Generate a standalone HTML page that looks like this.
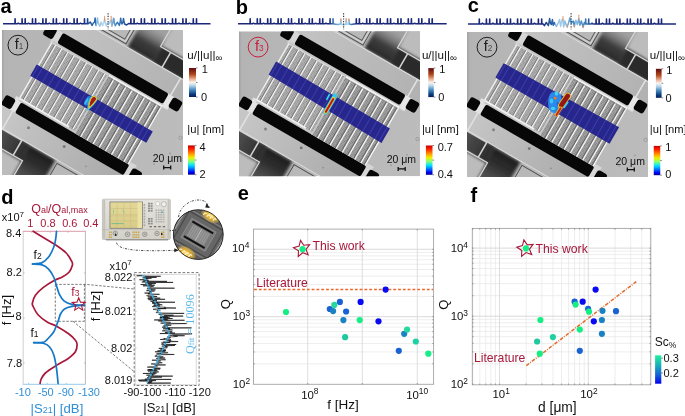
<!DOCTYPE html><html><head><meta charset="utf-8"><style>html,body{margin:0;padding:0;background:#fff;}svg{display:block;will-change:transform;}</style></head><body><svg width="685" height="416" viewBox="0 0 685 416"><defs><clipPath id="semclip"><rect x="0" y="0" width="181" height="145"/></clipPath><linearGradient id="darkU" gradientUnits="userSpaceOnUse" x1="0" y1="-96" x2="0" y2="-68"><stop offset="0" stop-color="#a0a0a0"/><stop offset="0.28" stop-color="#7c7c7c"/><stop offset="0.55" stop-color="#3e3e3e"/><stop offset="1" stop-color="#282828"/></linearGradient><linearGradient id="darkL" gradientUnits="userSpaceOnUse" x1="0" y1="112" x2="0" y2="68"><stop offset="0" stop-color="#6a6a6a"/><stop offset="0.4" stop-color="#4a4a4a"/><stop offset="0.7" stop-color="#2e2e2e"/><stop offset="1" stop-color="#1e1e1e"/></linearGradient><linearGradient id="bgGrad" x1="0" y1="0" x2="1" y2="0"><stop offset="0" stop-color="#a2a2a2"/><stop offset="0.015" stop-color="#b4b4b4"/><stop offset="0.5" stop-color="#b8b8b8"/><stop offset="1" stop-color="#bcbcbc"/></linearGradient><linearGradient id="bandU" gradientUnits="userSpaceOnUse" x1="-70" y1="0" x2="70" y2="0"><stop offset="0" stop-color="#c4c4c4"/><stop offset="1" stop-color="#b2b2b2"/></linearGradient><linearGradient id="bandL" gradientUnits="userSpaceOnUse" x1="-70" y1="0" x2="70" y2="0"><stop offset="0" stop-color="#c6c6c6"/><stop offset="1" stop-color="#a8a8a8"/></linearGradient><linearGradient id="darkSq" gradientUnits="userSpaceOnUse" x1="-33" y1="0" x2="-75" y2="0"><stop offset="0" stop-color="#2a2a2a"/><stop offset="1" stop-color="#5a5a5a"/></linearGradient><filter id="blur1" x="-20%" y="-20%" width="140%" height="140%"><feGaussianBlur stdDeviation="0.6"/></filter><filter id="blur2" x="-20%" y="-20%" width="140%" height="140%"><feGaussianBlur stdDeviation="1.6"/></filter><filter id="blur05"><feGaussianBlur stdDeviation="0.35"/></filter><pattern id="hatch" patternUnits="userSpaceOnUse" width="1.55" height="1.55"><rect width="1.55" height="1.55" fill="#b0b0b0"/><rect width="0.75" height="0.75" fill="#868686"/></pattern><pattern id="hatch2" patternUnits="userSpaceOnUse" width="1.55" height="1.55"><rect width="1.55" height="1.55" fill="#a2a2a2"/><rect width="0.75" height="0.75" fill="#767676"/></pattern><g id="sem"><rect x="0" y="0" width="181" height="145" fill="url(#bgGrad)"/><g transform="translate(89.5,73.6) rotate(30) scale(0.976,1)"><rect x="32" y="-170" width="140" height="86" fill="#bcbcbc"/><g filter="url(#blur2)"><rect x="3" y="-137" width="30" height="70" fill="url(#darkU)"/><rect x="33" y="-85" width="80" height="19" fill="#2c2c2c"/></g><polyline points="32,-170 32,-84 110,-84" fill="none" stroke="#d6d6d6" stroke-width="1.3"/><polyline points="44,-84 44,-65.5 110,-65.5" fill="none" stroke="#d2d2d2" stroke-width="1.6"/><rect x="-170" y="-170" width="170" height="101" fill="#b8b8b8"/><polyline points="-170,-69 0,-69 0,-170" fill="none" stroke="#4a4a4a" stroke-width="0.9"/><polyline points="-170,-72.5 -3.5,-72.5 -3.5,-170" fill="none" stroke="#555" stroke-width="0.9"/><polyline points="-170,-70.8 -1.7,-70.8 -1.7,-170" fill="none" stroke="#d4d4d4" stroke-width="1.2"/><rect x="-172" y="84" width="140" height="86" fill="#bcbcbc"/><g filter="url(#blur2)"><rect x="-33" y="67" width="30" height="70" fill="url(#darkL)"/><rect x="-113" y="66" width="80" height="19" fill="url(#darkSq)"/></g><polyline points="-32,170 -32,84 -110,84" fill="none" stroke="#d6d6d6" stroke-width="1.3"/><polyline points="-43,84 -43,66.5 -110,66.5" fill="none" stroke="#d2d2d2" stroke-width="1.6"/><rect x="0" y="69" width="170" height="101" fill="#b8b8b8"/><polyline points="170,69 0,69 0,170" fill="none" stroke="#4a4a4a" stroke-width="0.9"/><rect x="-200" y="-67" width="400" height="20.5" fill="url(#bandU)"/><rect x="-200" y="46" width="400" height="20.5" fill="url(#bandL)"/><line x1="-200" y1="-66.5" x2="200" y2="-66.5" stroke="#dadada" stroke-width="1"/><line x1="-200" y1="66" x2="200" y2="66" stroke="#dadada" stroke-width="1"/><line x1="66" y1="-67" x2="66" y2="-46" stroke="#e2e2e2" stroke-width="1.6"/><line x1="-66" y1="46" x2="-66" y2="67" stroke="#e2e2e2" stroke-width="1.6"/><g filter="url(#blur05)"><rect x="-68.5" y="-47" width="7.5" height="14.5" fill="#d6d6d6"/><rect x="63" y="-47" width="7.5" height="14.5" fill="#e6e6e6"/><rect x="-70.5" y="31" width="8" height="15" fill="#e2e2e2"/><rect x="64.5" y="31" width="7.5" height="15" fill="#d6d6d6"/><rect x="-66" y="-35.5" width="130" height="2.8" fill="#c6c6c6"/><rect x="-66" y="31.5" width="128" height="2.8" fill="#c6c6c6"/></g><rect x="-61.5" y="-47.1" width="125" height="11.7" rx="2" fill="#070707"/><rect x="-63.2" y="34.1" width="128.2" height="12.1" rx="2" fill="#070707"/><rect x="-79.2" y="-46.900000000000006" width="11.4" height="11.4" rx="2.7" fill="#070707"/><rect x="69.3" y="-46.900000000000006" width="11.4" height="11.4" rx="2.7" fill="#070707"/><rect x="-80.2" y="34.5" width="11.4" height="11.4" rx="2.7" fill="#070707"/><rect x="69.8" y="34.5" width="11.4" height="11.4" rx="2.7" fill="#070707"/><rect x="-66.5" y="-33" width="66" height="64.5" fill="url(#hatch)"/><rect x="0.8" y="-33" width="62.7" height="67.1" fill="url(#hatch2)"/><line x1="-66.5" y1="-33" x2="-66.5" y2="31.5" stroke="#f4f4f4" stroke-width="1.3"/><line x1="-61.8" y1="-33" x2="-61.8" y2="31.5" stroke="#f4f4f4" stroke-width="1.3"/><line x1="-63" y1="-33" x2="-63" y2="31.5" stroke="#747474" stroke-width="0.8"/><line x1="-54.5" y1="-33" x2="-54.5" y2="31.5" stroke="#f4f4f4" stroke-width="1.3"/><line x1="-55.7" y1="-33" x2="-55.7" y2="31.5" stroke="#747474" stroke-width="0.8"/><line x1="-47.2" y1="-33" x2="-47.2" y2="31.5" stroke="#f4f4f4" stroke-width="1.3"/><line x1="-48.4" y1="-33" x2="-48.4" y2="31.5" stroke="#747474" stroke-width="0.8"/><line x1="-39.9" y1="-33" x2="-39.9" y2="31.5" stroke="#f4f4f4" stroke-width="1.3"/><line x1="-41.1" y1="-33" x2="-41.1" y2="31.5" stroke="#747474" stroke-width="0.8"/><line x1="-32.6" y1="-33" x2="-32.6" y2="31.5" stroke="#f4f4f4" stroke-width="1.3"/><line x1="-33.8" y1="-33" x2="-33.8" y2="31.5" stroke="#747474" stroke-width="0.8"/><line x1="-25.3" y1="-33" x2="-25.3" y2="31.5" stroke="#f4f4f4" stroke-width="1.3"/><line x1="-26.5" y1="-33" x2="-26.5" y2="31.5" stroke="#747474" stroke-width="0.8"/><line x1="-18" y1="-33" x2="-18" y2="31.5" stroke="#f4f4f4" stroke-width="1.3"/><line x1="-19.2" y1="-33" x2="-19.2" y2="31.5" stroke="#747474" stroke-width="0.8"/><line x1="-10.7" y1="-33" x2="-10.7" y2="31.5" stroke="#f4f4f4" stroke-width="1.3"/><line x1="-11.9" y1="-33" x2="-11.9" y2="31.5" stroke="#747474" stroke-width="0.8"/><line x1="-3.4" y1="-33" x2="-3.4" y2="31.5" stroke="#f4f4f4" stroke-width="1.3"/><line x1="-4.6" y1="-33" x2="-4.6" y2="31.5" stroke="#747474" stroke-width="0.8"/><line x1="7.4" y1="-33" x2="7.4" y2="34.1" stroke="#f4f4f4" stroke-width="1.45"/><line x1="5.95" y1="-33" x2="5.95" y2="34.1" stroke="#666" stroke-width="1.0"/><line x1="14.7" y1="-33" x2="14.7" y2="34.1" stroke="#f4f4f4" stroke-width="1.45"/><line x1="13.25" y1="-33" x2="13.25" y2="34.1" stroke="#666" stroke-width="1.0"/><line x1="22" y1="-33" x2="22" y2="34.1" stroke="#f4f4f4" stroke-width="1.45"/><line x1="20.55" y1="-33" x2="20.55" y2="34.1" stroke="#666" stroke-width="1.0"/><line x1="29.3" y1="-33" x2="29.3" y2="34.1" stroke="#f4f4f4" stroke-width="1.45"/><line x1="27.85" y1="-33" x2="27.85" y2="34.1" stroke="#666" stroke-width="1.0"/><line x1="36.6" y1="-33" x2="36.6" y2="34.1" stroke="#f4f4f4" stroke-width="1.45"/><line x1="35.15" y1="-33" x2="35.15" y2="34.1" stroke="#666" stroke-width="1.0"/><line x1="43.9" y1="-33" x2="43.9" y2="34.1" stroke="#f4f4f4" stroke-width="1.45"/><line x1="42.45" y1="-33" x2="42.45" y2="34.1" stroke="#666" stroke-width="1.0"/><line x1="51.2" y1="-33" x2="51.2" y2="34.1" stroke="#f4f4f4" stroke-width="1.45"/><line x1="49.75" y1="-33" x2="49.75" y2="34.1" stroke="#666" stroke-width="1.0"/><line x1="58.5" y1="-33" x2="58.5" y2="34.1" stroke="#f4f4f4" stroke-width="1.45"/><line x1="57.05" y1="-33" x2="57.05" y2="34.1" stroke="#666" stroke-width="1.0"/><line x1="63.5" y1="-33" x2="63.5" y2="34.1" stroke="#f4f4f4" stroke-width="1.45"/><line x1="62.05" y1="-33" x2="62.05" y2="34.1" stroke="#666" stroke-width="1.0"/><line x1="-66.5" y1="31.5" x2="-8" y2="31.5" stroke="#f0f0f0" stroke-width="1.8"/><line x1="-66.5" y1="-33" x2="-0.5" y2="-33" stroke="#dedede" stroke-width="0.9"/><line x1="1" y1="-33" x2="64.2" y2="-33" stroke="#f2f2f2" stroke-width="1.9"/><line x1="1" y1="-31.5" x2="63" y2="-31.5" stroke="#808080" stroke-width="0.6"/><rect x="-0.6" y="-33" width="1.6" height="67.1" fill="#c8c8c8"/></g><circle cx="26.5" cy="97.7" r="1.5" fill="#666" opacity="0.7"/><circle cx="62.2" cy="116.6" r="1.4" fill="#555" opacity="0.7"/><circle cx="84" cy="136.3" r="0.9" fill="#777" opacity="0.6"/><circle cx="178.5" cy="107.8" r="1.7" fill="none" stroke="#888" stroke-width="0.7" opacity="0.8"/><circle cx="152" cy="134" r="0.8" fill="#777" opacity="0.6"/><circle cx="168" cy="123.4" r="0.8" fill="#777" opacity="0.6"/></g><linearGradient id="lgA" gradientUnits="userSpaceOnUse" x1="0" y1="0" x2="685" y2="0"><stop offset="0" stop-color="#1b2878"/><stop offset="0.12" stop-color="#1b2878"/><stop offset="0.13" stop-color="#214e96"/><stop offset="0.14" stop-color="#2c6cb0"/><stop offset="0.14" stop-color="#7fb4dc"/><stop offset="0.15" stop-color="#b4d6ec"/><stop offset="0.16" stop-color="#a8d0ea"/><stop offset="0.17" stop-color="#3c80c0"/><stop offset="0.18" stop-color="#2a62a8"/><stop offset="0.19" stop-color="#1b2878"/><stop offset="1" stop-color="#1b2878"/></linearGradient><linearGradient id="lgB" gradientUnits="userSpaceOnUse" x1="0" y1="0" x2="685" y2="0"><stop offset="0" stop-color="#1b2878"/><stop offset="0.48" stop-color="#1b2878"/><stop offset="0.49" stop-color="#5a9ccc"/><stop offset="0.5" stop-color="#a4cce6"/><stop offset="0.51" stop-color="#a4cce6"/><stop offset="0.51" stop-color="#5a9ccc"/><stop offset="0.52" stop-color="#1b2878"/><stop offset="1" stop-color="#1b2878"/></linearGradient><linearGradient id="lgC" gradientUnits="userSpaceOnUse" x1="0" y1="0" x2="685" y2="0"><stop offset="0" stop-color="#1b2878"/><stop offset="0.79" stop-color="#1b2878"/><stop offset="0.8" stop-color="#234f96"/><stop offset="0.81" stop-color="#2f6cb0"/><stop offset="0.81" stop-color="#7fb4dc"/><stop offset="0.82" stop-color="#a8d0ea"/><stop offset="0.83" stop-color="#6ea8d6"/><stop offset="0.84" stop-color="#3c80c0"/><stop offset="0.84" stop-color="#8cc0e2"/><stop offset="0.85" stop-color="#4a8cc8"/><stop offset="0.86" stop-color="#2a5ea6"/><stop offset="0.87" stop-color="#1b2878"/><stop offset="1" stop-color="#1b2878"/></linearGradient></defs><rect width="685" height="416" fill="#fff"/><text x="0.5" y="12.8" font-size="20" font-weight="bold" font-family="Liberation Sans, sans-serif" fill="#000">a</text><text x="235.8" y="13.7" font-size="20" font-weight="bold" font-family="Liberation Sans, sans-serif" fill="#000">b</text><text x="467.8" y="12.4" font-size="20" font-weight="bold" font-family="Liberation Sans, sans-serif" fill="#000">c</text><text x="1.2" y="203.5" font-size="20" font-weight="bold" font-family="Liberation Sans, sans-serif" fill="#000">d</text><text x="237.8" y="199.6" font-size="20" font-weight="bold" font-family="Liberation Sans, sans-serif" fill="#000">e</text><text x="470.6" y="202" font-size="20" font-weight="bold" font-family="Liberation Sans, sans-serif" fill="#000">f</text><path d="M3,23.8 L14.95,23.8 L15.05,18.8 L15.15,18.8 L15.25,23.8 L17.35,23.8 L17.95,23.2 L18.55,23.2 L19.15,23.8 L21.95,23.8 L22.05,18.8 L22.15,18.8 L22.25,23.8 L25.05,23.8 L25.15,18.8 L25.25,18.8 L25.35,23.8 L27.59,23.8 L28.19,23.2 L28.79,23.2 L29.39,23.8 L32.35,23.8 L32.45,18.8 L32.55,18.8 L32.65,23.8 L35.45,23.8 L35.55,18.8 L35.65,18.8 L35.75,23.8 L37.99,23.8 L38.59,23.2 L39.19,23.2 L39.79,23.8 L42.75,23.8 L42.85,18.8 L42.95,18.8 L43.05,23.8 L45.85,23.8 L45.95,18.8 L46.05,18.8 L46.15,23.8 L48.39,23.8 L48.99,23.2 L49.59,23.2 L50.19,23.8 L53.15,23.8 L53.25,18.8 L53.35,18.8 L53.45,23.8 L56.25,23.8 L56.35,18.8 L56.45,18.8 L56.55,23.8 L58.79,23.8 L59.39,23.2 L59.98,23.2 L60.59,23.8 L63.55,23.8 L63.65,18.8 L63.75,18.8 L63.85,23.8 L66.65,23.8 L66.75,18.8 L66.85,18.8 L66.95,23.8 L69.18,23.8 L69.78,23.2 L70.38,23.2 L70.98,23.8 L73.95,23.8 L74.05,18.8 L74.15,18.8 L74.25,23.8 L77.05,23.8 L77.15,18.8 L77.25,18.8 L77.35,23.8 L79.58,23.8 L80.19,23.2 L80.78,23.2 L81.39,23.8 L84.35,23.8 L84.45,18.8 L84.55,18.8 L84.65,23.8 L87.45,23.8 L87.55,18.8 L87.65,18.8 L87.75,23.8 L88.6,23.5 L90.3,22 L92.1,25.4 L93.4,23 L94.6,22 L95.1,18.1 L95.6,22 L96.2,25.5 L97,22 L97.5,18.1 L98,22 L98.8,24 L99.8,26.3 L101.1,22 L102.6,25.8 L103.8,22.5 L104.6,19 L105.3,22.5 L106.3,26 L107.3,23.5 L108.2,22.5 L109.3,23.5 L110.3,21 L111.2,20 L111.8,26.2 L112.7,23 L113.3,19 L113.6,18.2 L114,19 L114.3,23 L115.3,25.8 L116.4,23.5 L117.5,22.3 L118.5,24 L119.4,25.4 L120.2,22 L120.7,18.2 L121.2,22 L122,24 L122.9,22 L123.5,18.5 L124,22 L124.6,24 L126.6,25 L128.5,23.5 L129.8,23.8 L130.75,23.8 L130.85,18.8 L130.95,18.8 L131.05,23.8 L133.95,23.8 L134.05,18.8 L134.15,18.8 L134.25,23.8 L136.44,23.8 L137.04,23.2 L137.64,23.2 L138.24,23.8 L141.15,23.8 L141.25,18.8 L141.35,18.8 L141.45,23.8 L144.35,23.8 L144.45,18.8 L144.55,18.8 L144.65,23.8 L146.84,23.8 L147.44,23.2 L148.04,23.2 L148.64,23.8 L151.55,23.8 L151.65,18.8 L151.75,18.8 L151.85,23.8 L154.75,23.8 L154.85,18.8 L154.95,18.8 L155.05,23.8 L157.24,23.8 L157.84,23.2 L158.44,23.2 L159.04,23.8 L161.95,23.8 L162.05,18.8 L162.15,18.8 L162.25,23.8 L165.15,23.8 L165.25,18.8 L165.35,18.8 L165.45,23.8 L167.64,23.8 L168.24,23.2 L168.84,23.2 L169.44,23.8 L172.35,23.8 L172.45,18.8 L172.55,18.8 L172.65,23.8 L175.55,23.8 L175.65,18.8 L175.75,18.8 L175.85,23.8 L178.04,23.8 L178.64,23.2 L179.24,23.2 L179.84,23.8 L182.75,23.8 L182.85,18.8 L182.95,18.8 L183.05,23.8 L185.95,23.8 L186.05,18.8 L186.15,18.8 L186.25,23.8 L188.44,23.8 L189.04,23.2 L189.64,23.2 L190.24,23.8 L193.15,23.8 L193.25,18.8 L193.35,18.8 L193.45,23.8 L196.35,23.8 L196.45,18.8 L196.55,18.8 L196.65,23.8 L210.5,23.8" fill="none" stroke="url(#lgA)" stroke-width="1.5" stroke-linejoin="round"/><line x1="104.6" y1="16.4" x2="104.6" y2="21" stroke="#e69468" stroke-width="1.1" stroke-linecap="round" opacity="0.9"/><line x1="111.2" y1="16.2" x2="111.2" y2="21" stroke="#e69468" stroke-width="1.1" stroke-linecap="round" opacity="0.9"/><line x1="108.1" y1="13.2" x2="108.1" y2="29.2" stroke="#2a2a2a" stroke-width="1.1" stroke-dasharray="1.2,1.4"/><path d="M238,23.8 L250.05,23.8 L250.15,18.8 L250.25,18.8 L250.35,23.8 L252.5,23.8 L253.09,23.2 L253.7,23.2 L254.3,23.8 L257.15,23.8 L257.25,18.8 L257.35,18.8 L257.45,23.8 L260.15,23.8 L260.25,18.8 L260.35,18.8 L260.45,23.8 L262.73,23.8 L263.33,23.2 L263.93,23.2 L264.53,23.8 L267.55,23.8 L267.65,18.8 L267.75,18.8 L267.85,23.8 L270.55,23.8 L270.65,18.8 L270.75,18.8 L270.85,23.8 L273.13,23.8 L273.73,23.2 L274.33,23.2 L274.93,23.8 L277.95,23.8 L278.05,18.8 L278.15,18.8 L278.25,23.8 L280.95,23.8 L281.05,18.8 L281.15,18.8 L281.25,23.8 L283.53,23.8 L284.13,23.2 L284.73,23.2 L285.33,23.8 L288.35,23.8 L288.45,18.8 L288.55,18.8 L288.65,23.8 L291.35,23.8 L291.45,18.8 L291.55,18.8 L291.65,23.8 L293.93,23.8 L294.53,23.2 L295.13,23.2 L295.73,23.8 L298.75,23.8 L298.85,18.8 L298.95,18.8 L299.05,23.8 L301.75,23.8 L301.85,18.8 L301.95,18.8 L302.05,23.8 L304.33,23.8 L304.93,23.2 L305.53,23.2 L306.13,23.8 L309.15,23.8 L309.25,18.8 L309.35,18.8 L309.45,23.8 L312.15,23.8 L312.25,18.8 L312.35,18.8 L312.45,23.8 L314.73,23.8 L315.33,23.2 L315.93,23.2 L316.53,23.8 L319.55,23.8 L319.65,18.8 L319.75,18.8 L319.85,23.8 L322.55,23.8 L322.65,18.8 L322.75,18.8 L322.85,23.8 L325.13,23.8 L325.73,23.2 L326.33,23.2 L326.93,23.8 L329.95,23.8 L330.05,18.8 L330.15,18.8 L330.25,23.8 L332.95,23.8 L333.05,18.8 L333.15,18.8 L333.25,23.8 L335.5,24.2 L338,24.6 L340.5,24 L340.9,19.5 L341.3,24 L343.5,25 L345.8,24.2 L346.2,19.5 L346.6,24.2 L348.4,24 L348.8,19.5 L349.2,24 L351.5,24.4 L354,24 L356.15,23.8 L356.25,18.8 L356.35,18.8 L356.45,23.8 L359.25,23.8 L359.35,18.8 L359.45,18.8 L359.55,23.8 L361.79,23.8 L362.38,23.2 L362.99,23.2 L363.58,23.8 L366.55,23.8 L366.65,18.8 L366.75,18.8 L366.85,23.8 L369.65,23.8 L369.75,18.8 L369.85,18.8 L369.95,23.8 L372.19,23.8 L372.79,23.2 L373.39,23.2 L373.99,23.8 L376.95,23.8 L377.05,18.8 L377.15,18.8 L377.25,23.8 L380.05,23.8 L380.15,18.8 L380.25,18.8 L380.35,23.8 L382.59,23.8 L383.19,23.2 L383.79,23.2 L384.38,23.8 L387.35,23.8 L387.45,18.8 L387.55,18.8 L387.65,23.8 L390.45,23.8 L390.55,18.8 L390.65,18.8 L390.75,23.8 L392.99,23.8 L393.59,23.2 L394.19,23.2 L394.79,23.8 L397.75,23.8 L397.85,18.8 L397.95,18.8 L398.05,23.8 L400.85,23.8 L400.95,18.8 L401.05,18.8 L401.15,23.8 L403.39,23.8 L403.99,23.2 L404.59,23.2 L405.19,23.8 L408.15,23.8 L408.25,18.8 L408.35,18.8 L408.45,23.8 L411.25,23.8 L411.35,18.8 L411.45,18.8 L411.55,23.8 L413.79,23.8 L414.39,23.2 L414.99,23.2 L415.59,23.8 L418.55,23.8 L418.65,18.8 L418.75,18.8 L418.85,23.8 L421.65,23.8 L421.75,18.8 L421.85,18.8 L421.95,23.8 L424.19,23.8 L424.79,23.2 L425.39,23.2 L425.99,23.8 L428.95,23.8 L429.05,18.8 L429.15,18.8 L429.25,23.8 L432.05,23.8 L432.15,18.8 L432.25,18.8 L432.35,23.8 L446.7,23.8" fill="none" stroke="url(#lgB)" stroke-width="1.5" stroke-linejoin="round"/><line x1="340.9" y1="18.8" x2="340.9" y2="20.5" stroke="#e69468" stroke-width="1.1" stroke-linecap="round" opacity="0.9"/><line x1="346.2" y1="18.6" x2="346.2" y2="21.5" stroke="#e69468" stroke-width="1.1" stroke-linecap="round" opacity="0.9"/><line x1="348.8" y1="18.8" x2="348.8" y2="20.5" stroke="#e69468" stroke-width="1.1" stroke-linecap="round" opacity="0.9"/><line x1="343.6" y1="13.2" x2="343.6" y2="29.2" stroke="#2a2a2a" stroke-width="1.1" stroke-dasharray="1.2,1.4"/><path d="M468,23.9 L479.15,23.9 L479.25,18.9 L479.35,18.9 L479.45,23.9 L481.6,23.9 L482.19,23.3 L482.8,23.3 L483.39,23.9 L486.25,23.9 L486.35,18.9 L486.45,18.9 L486.55,23.9 L489.55,23.9 L489.65,18.9 L489.75,18.9 L489.85,23.9 L492,23.9 L492.59,23.3 L493.19,23.3 L493.79,23.9 L496.65,23.9 L496.75,18.9 L496.85,18.9 L496.95,23.9 L499.95,23.9 L500.05,18.9 L500.15,18.9 L500.25,23.9 L502.39,23.9 L502.99,23.3 L503.59,23.3 L504.19,23.9 L507.05,23.9 L507.15,18.9 L507.25,18.9 L507.35,23.9 L510.35,23.9 L510.45,18.9 L510.55,18.9 L510.65,23.9 L512.8,23.9 L513.4,23.3 L514,23.3 L514.6,23.9 L517.45,23.9 L517.55,18.9 L517.65,18.9 L517.75,23.9 L520.75,23.9 L520.85,18.9 L520.95,18.9 L521.05,23.9 L523.2,23.9 L523.8,23.3 L524.39,23.3 L525,23.9 L527.85,23.9 L527.95,18.9 L528.05,18.9 L528.15,23.9 L531.15,23.9 L531.25,18.9 L531.35,18.9 L531.45,23.9 L533.6,23.9 L534.2,23.3 L534.79,23.3 L535.39,23.9 L538.25,23.9 L538.35,18.9 L538.45,18.9 L538.55,23.9 L541.55,23.9 L541.65,18.9 L541.75,18.9 L541.85,23.9 L542.8,23.7 L544.4,25.6 L546.3,22.5 L548.4,25.6 L549.3,21 L549.6,18.5 L549.9,21 L550.5,23 L551.4,24.5 L552.1,21.5 L552.4,19.5 L552.7,21.5 L553.3,25.3 L554.5,22.5 L556.4,26.5 L558.5,22.5 L559.6,19.5 L560.6,26.5 L562,20 L562.9,19 L563.6,27 L564.8,21 L566.2,25 L567.3,26.5 L568.5,23 L569.9,17.8 L570.3,21 L570.6,19 L571.2,23.5 L572.2,22 L573.3,21 L574.4,26.5 L575.8,20.2 L577.3,24.6 L578.8,18.5 L579.9,25.3 L581.3,21 L583.1,27 L584.4,22.5 L585.55,23.9 L585.65,18.9 L585.75,18.9 L585.85,23.9 L588.55,23.9 L588.65,18.9 L588.75,18.9 L588.85,23.9 L591.13,23.9 L591.73,23.3 L592.33,23.3 L592.93,23.9 L595.95,23.9 L596.05,18.9 L596.15,18.9 L596.25,23.9 L598.95,23.9 L599.05,18.9 L599.15,18.9 L599.25,23.9 L601.53,23.9 L602.13,23.3 L602.73,23.3 L603.33,23.9 L606.35,23.9 L606.45,18.9 L606.55,18.9 L606.65,23.9 L609.35,23.9 L609.45,18.9 L609.55,18.9 L609.65,23.9 L611.93,23.9 L612.53,23.3 L613.13,23.3 L613.73,23.9 L616.75,23.9 L616.85,18.9 L616.95,18.9 L617.05,23.9 L619.75,23.9 L619.85,18.9 L619.95,18.9 L620.05,23.9 L622.33,23.9 L622.93,23.3 L623.53,23.3 L624.13,23.9 L627.15,23.9 L627.25,18.9 L627.35,18.9 L627.45,23.9 L630.15,23.9 L630.25,18.9 L630.35,18.9 L630.45,23.9 L632.73,23.9 L633.33,23.3 L633.93,23.3 L634.53,23.9 L637.55,23.9 L637.65,18.9 L637.75,18.9 L637.85,23.9 L640.55,23.9 L640.65,18.9 L640.75,18.9 L640.85,23.9 L643.13,23.9 L643.73,23.3 L644.33,23.3 L644.93,23.9 L647.95,23.9 L648.05,18.9 L648.15,18.9 L648.25,23.9 L650.95,23.9 L651.05,18.9 L651.15,18.9 L651.25,23.9 L653.53,23.9 L654.13,23.3 L654.73,23.3 L655.33,23.9 L658.35,23.9 L658.45,18.9 L658.55,18.9 L658.65,23.9 L661.35,23.9 L661.45,18.9 L661.55,18.9 L661.65,23.9 L676,23.9" fill="none" stroke="url(#lgC)" stroke-width="1.5" stroke-linejoin="round"/><line x1="563" y1="16.5" x2="563" y2="20.5" stroke="#e69468" stroke-width="1.1" stroke-linecap="round" opacity="0.9"/><line x1="578.8" y1="15.2" x2="578.8" y2="20" stroke="#e69468" stroke-width="1.1" stroke-linecap="round" opacity="0.9"/><line x1="567.3" y1="25" x2="567.3" y2="27.5" stroke="#e69468" stroke-width="1.1" stroke-linecap="round" opacity="0.9"/><line x1="583.1" y1="25.5" x2="583.1" y2="27.8" stroke="#e69468" stroke-width="1.1" stroke-linecap="round" opacity="0.9"/><line x1="574.4" y1="25" x2="574.4" y2="27" stroke="#e69468" stroke-width="1.1" stroke-linecap="round" opacity="0.9"/><line x1="571.1" y1="13.2" x2="571.1" y2="29.2" stroke="#2a2a2a" stroke-width="1.1" stroke-dasharray="1.2,1.4"/><g transform="translate(2,30)" clip-path="url(#semclip)"><use href="#sem"/><g transform="translate(89.5,73.6) rotate(30)"><rect x="-67" y="-6.4" width="134" height="12.8" fill="#26268c"/><g><line x1="-64.9" y1="-6.4" x2="-64.9" y2="6.4" stroke="#3c3ca8" stroke-width="1.1"/><line x1="-60.32" y1="-6.4" x2="-60.32" y2="6.4" stroke="#3c3ca8" stroke-width="1.1"/><line x1="-53.19" y1="-6.4" x2="-53.19" y2="6.4" stroke="#3c3ca8" stroke-width="1.1"/><line x1="-46.07" y1="-6.4" x2="-46.07" y2="6.4" stroke="#3c3ca8" stroke-width="1.1"/><line x1="-38.94" y1="-6.4" x2="-38.94" y2="6.4" stroke="#3c3ca8" stroke-width="1.1"/><line x1="-31.82" y1="-6.4" x2="-31.82" y2="6.4" stroke="#3c3ca8" stroke-width="1.1"/><line x1="-24.69" y1="-6.4" x2="-24.69" y2="6.4" stroke="#3c3ca8" stroke-width="1.1"/><line x1="-17.57" y1="-6.4" x2="-17.57" y2="6.4" stroke="#3c3ca8" stroke-width="1.1"/><line x1="-10.44" y1="-6.4" x2="-10.44" y2="6.4" stroke="#3c3ca8" stroke-width="1.1"/><line x1="-3.32" y1="-6.4" x2="-3.32" y2="6.4" stroke="#3c3ca8" stroke-width="1.1"/><line x1="7.22" y1="-6.4" x2="7.22" y2="6.4" stroke="#3c3ca8" stroke-width="1.1"/><line x1="14.35" y1="-6.4" x2="14.35" y2="6.4" stroke="#3c3ca8" stroke-width="1.1"/><line x1="21.47" y1="-6.4" x2="21.47" y2="6.4" stroke="#3c3ca8" stroke-width="1.1"/><line x1="28.6" y1="-6.4" x2="28.6" y2="6.4" stroke="#3c3ca8" stroke-width="1.1"/><line x1="35.72" y1="-6.4" x2="35.72" y2="6.4" stroke="#3c3ca8" stroke-width="1.1"/><line x1="42.85" y1="-6.4" x2="42.85" y2="6.4" stroke="#3c3ca8" stroke-width="1.1"/><line x1="49.97" y1="-6.4" x2="49.97" y2="6.4" stroke="#3c3ca8" stroke-width="1.1"/><line x1="57.1" y1="-6.4" x2="57.1" y2="6.4" stroke="#3c3ca8" stroke-width="1.1"/><line x1="61.98" y1="-6.4" x2="61.98" y2="6.4" stroke="#3c3ca8" stroke-width="1.1"/></g></g><g transform="translate(-2,-30)"><g filter="url(#blur1)"><ellipse cx="87.6" cy="100.8" rx="2.6" ry="5.2" transform="rotate(30 87.6 100.8)" fill="#2a8cf0" opacity="0.85"/><ellipse cx="86.4" cy="101.5" rx="1" ry="3.6" transform="rotate(30 86.4 101.5)" fill="#40d0f0" opacity="0.8"/><path d="M93.5,96.6 C95.5,96.3 97.2,98 96.3,99.6 C94.5,102.5 91,106 89,107.8 C88.8,105 89.5,101.5 91.2,98.5 C91.8,97.4 92.6,96.8 93.5,96.6 Z" fill="none" stroke="#30c8e0" stroke-width="2.6" transform="translate(-0.4,0.4)"/><path d="M93.5,96.6 C95.5,96.3 97.2,98 96.3,99.6 C94.5,102.5 91,106 89,107.8 C88.8,105 89.5,101.5 91.2,98.5 C91.8,97.4 92.6,96.8 93.5,96.6 Z" fill="#a81c1c" stroke="#f0c020" stroke-width="1.1"/></g><path d="M93.5,97.2 C95,97 96.2,98.2 95.6,99.5 C94,102 91.5,104.8 89.8,106.5 C89.8,104.5 90.3,101.5 91.7,99 C92.2,98 92.8,97.4 93.5,97.2 Z" fill="#a01c1c" filter="url(#blur05)"/></g><circle cx="15.9" cy="15.15" r="9.9" fill="none" stroke="#1e1e1e" stroke-width="1"/><text x="12.7" y="19.05" font-size="14.5" font-family="Liberation Sans, sans-serif" fill="#1e1e1e">f<tspan font-size="8.2" dy="0" fill="#4a4a4a">1</tspan></text><text x="150.7" y="131.7" font-size="10.5" font-family="Liberation Sans, sans-serif" fill="#111">20 μm</text><path d="M161.7,137.6 h7 M161.7,135.6 v4 M168.7,135.6 v4" stroke="#111" stroke-width="1.3" fill="none"/></g><g transform="translate(239,31.3)" clip-path="url(#semclip)"><use href="#sem"/><g transform="translate(89.5,73.6) rotate(30)"><polygon points="-67,-11.3 65,-10.2 65,6.6 -67,3.6" fill="#26268c"/><clipPath id="bc239"><polygon points="-67,-11.3 65,-10.2 65,6.6 -67,3.6"/></clipPath><g clip-path="url(#bc239)"><line x1="-64.9" y1="-11.3" x2="-64.9" y2="6.6" stroke="#3c3ca8" stroke-width="1.1"/><line x1="-60.32" y1="-11.3" x2="-60.32" y2="6.6" stroke="#3c3ca8" stroke-width="1.1"/><line x1="-53.19" y1="-11.3" x2="-53.19" y2="6.6" stroke="#3c3ca8" stroke-width="1.1"/><line x1="-46.07" y1="-11.3" x2="-46.07" y2="6.6" stroke="#3c3ca8" stroke-width="1.1"/><line x1="-38.94" y1="-11.3" x2="-38.94" y2="6.6" stroke="#3c3ca8" stroke-width="1.1"/><line x1="-31.82" y1="-11.3" x2="-31.82" y2="6.6" stroke="#3c3ca8" stroke-width="1.1"/><line x1="-24.69" y1="-11.3" x2="-24.69" y2="6.6" stroke="#3c3ca8" stroke-width="1.1"/><line x1="-17.57" y1="-11.3" x2="-17.57" y2="6.6" stroke="#3c3ca8" stroke-width="1.1"/><line x1="-10.44" y1="-11.3" x2="-10.44" y2="6.6" stroke="#3c3ca8" stroke-width="1.1"/><line x1="-3.32" y1="-11.3" x2="-3.32" y2="6.6" stroke="#3c3ca8" stroke-width="1.1"/><line x1="7.22" y1="-11.3" x2="7.22" y2="6.6" stroke="#3c3ca8" stroke-width="1.1"/><line x1="14.35" y1="-11.3" x2="14.35" y2="6.6" stroke="#3c3ca8" stroke-width="1.1"/><line x1="21.47" y1="-11.3" x2="21.47" y2="6.6" stroke="#3c3ca8" stroke-width="1.1"/><line x1="28.6" y1="-11.3" x2="28.6" y2="6.6" stroke="#3c3ca8" stroke-width="1.1"/><line x1="35.72" y1="-11.3" x2="35.72" y2="6.6" stroke="#3c3ca8" stroke-width="1.1"/><line x1="42.85" y1="-11.3" x2="42.85" y2="6.6" stroke="#3c3ca8" stroke-width="1.1"/><line x1="49.97" y1="-11.3" x2="49.97" y2="6.6" stroke="#3c3ca8" stroke-width="1.1"/><line x1="57.1" y1="-11.3" x2="57.1" y2="6.6" stroke="#3c3ca8" stroke-width="1.1"/><line x1="61.98" y1="-11.3" x2="61.98" y2="6.6" stroke="#3c3ca8" stroke-width="1.1"/></g></g><g transform="translate(-239,-31.3)"><g filter="url(#blur1)"><line x1="335" y1="96" x2="325.7" y2="112" stroke="#30c8f0" stroke-width="5" stroke-linecap="round"/><line x1="333.5" y1="98.5" x2="325.7" y2="112" stroke="#f0d020" stroke-width="3.4" stroke-linecap="round"/><line x1="333.3" y1="99" x2="325.9" y2="111.8" stroke="#c01414" stroke-width="2" stroke-linecap="round"/><line x1="326.8" y1="99.4" x2="329.3" y2="94.7" stroke="#30d8f0" stroke-width="1.6" stroke-linecap="round"/></g></g><circle cx="19.1" cy="15.8" r="9.9" fill="none" stroke="#c81e3c" stroke-width="1"/><text x="15.900000000000002" y="19.7" font-size="14.5" font-family="Liberation Sans, sans-serif" fill="#c81e3c">f<tspan font-size="8.2" dy="0" fill="#c81e3c">3</tspan></text><text x="147.7" y="131.4" font-size="10.5" font-family="Liberation Sans, sans-serif" fill="#111">20 μm</text><path d="M159.2,137.6 h7 M159.2,135.6 v4 M166.2,135.6 v4" stroke="#111" stroke-width="1.3" fill="none"/></g><g transform="translate(467,32)" clip-path="url(#semclip)"><use href="#sem"/><g transform="translate(89.5,73.6) rotate(30)"><polygon points="-67,-10.3 65,-12.6 65,6.5 -67,6.2" fill="#26268c"/><clipPath id="bc467"><polygon points="-67,-10.3 65,-12.6 65,6.5 -67,6.2"/></clipPath><g clip-path="url(#bc467)"><line x1="-64.9" y1="-12.6" x2="-64.9" y2="6.5" stroke="#3c3ca8" stroke-width="1.1"/><line x1="-60.32" y1="-12.6" x2="-60.32" y2="6.5" stroke="#3c3ca8" stroke-width="1.1"/><line x1="-53.19" y1="-12.6" x2="-53.19" y2="6.5" stroke="#3c3ca8" stroke-width="1.1"/><line x1="-46.07" y1="-12.6" x2="-46.07" y2="6.5" stroke="#3c3ca8" stroke-width="1.1"/><line x1="-38.94" y1="-12.6" x2="-38.94" y2="6.5" stroke="#3c3ca8" stroke-width="1.1"/><line x1="-31.82" y1="-12.6" x2="-31.82" y2="6.5" stroke="#3c3ca8" stroke-width="1.1"/><line x1="-24.69" y1="-12.6" x2="-24.69" y2="6.5" stroke="#3c3ca8" stroke-width="1.1"/><line x1="-17.57" y1="-12.6" x2="-17.57" y2="6.5" stroke="#3c3ca8" stroke-width="1.1"/><line x1="-10.44" y1="-12.6" x2="-10.44" y2="6.5" stroke="#3c3ca8" stroke-width="1.1"/><line x1="-3.32" y1="-12.6" x2="-3.32" y2="6.5" stroke="#3c3ca8" stroke-width="1.1"/><line x1="7.22" y1="-12.6" x2="7.22" y2="6.5" stroke="#3c3ca8" stroke-width="1.1"/><line x1="14.35" y1="-12.6" x2="14.35" y2="6.5" stroke="#3c3ca8" stroke-width="1.1"/><line x1="21.47" y1="-12.6" x2="21.47" y2="6.5" stroke="#3c3ca8" stroke-width="1.1"/><line x1="28.6" y1="-12.6" x2="28.6" y2="6.5" stroke="#3c3ca8" stroke-width="1.1"/><line x1="35.72" y1="-12.6" x2="35.72" y2="6.5" stroke="#3c3ca8" stroke-width="1.1"/><line x1="42.85" y1="-12.6" x2="42.85" y2="6.5" stroke="#3c3ca8" stroke-width="1.1"/><line x1="49.97" y1="-12.6" x2="49.97" y2="6.5" stroke="#3c3ca8" stroke-width="1.1"/><line x1="57.1" y1="-12.6" x2="57.1" y2="6.5" stroke="#3c3ca8" stroke-width="1.1"/><line x1="61.98" y1="-12.6" x2="61.98" y2="6.5" stroke="#3c3ca8" stroke-width="1.1"/></g></g><g transform="translate(-467,-32)"><g filter="url(#blur1)"><path d="M551,93 C555,91 559,92.5 561,95 L562,104 C561,108 559,111 556,113 C552,113.5 549.5,111 548.5,107 C547.5,102 548.5,96 551,93 Z" fill="#2c8ef0" opacity="0.95"/><ellipse cx="556.5" cy="93.6" rx="1.6" ry="2.2" fill="#40d8f0"/><ellipse cx="551.5" cy="101" rx="1.8" ry="2.6" fill="#38c8f0"/><ellipse cx="553" cy="108.5" rx="2.2" ry="1.8" fill="#40d0f0"/><ellipse cx="558" cy="104" rx="1.4" ry="2" fill="#2060e0"/><circle cx="555.1" cy="97.9" r="1.5" fill="#f07818"/><line x1="567.5" y1="96" x2="561.2" y2="105.5" stroke="#e8c828" stroke-width="6.4" stroke-linecap="round"/><line x1="567.7" y1="96" x2="561.4" y2="105.2" stroke="#961616" stroke-width="4.8" stroke-linecap="round"/><line x1="560.6" y1="108.2" x2="556.4" y2="114.9" stroke="#f0c020" stroke-width="3.2" stroke-linecap="round"/><line x1="560.6" y1="108.2" x2="556.4" y2="114.9" stroke="#d02010" stroke-width="1.9" stroke-linecap="round"/><line x1="564.4" y1="107.3" x2="567.8" y2="102.3" stroke="#30d0f0" stroke-width="1.6" stroke-linecap="round"/></g></g><circle cx="20" cy="15.2" r="9.9" fill="none" stroke="#1e1e1e" stroke-width="1"/><text x="16.8" y="19.099999999999998" font-size="14.5" font-family="Liberation Sans, sans-serif" fill="#1e1e1e">f<tspan font-size="8.2" dy="0" fill="#4a4a4a">2</tspan></text><text x="148.5" y="132.5" font-size="10.5" font-family="Liberation Sans, sans-serif" fill="#111">20 μm</text><path d="M160.3,137.6 h7 M160.3,135.6 v4 M167.3,135.6 v4" stroke="#111" stroke-width="1.3" fill="none"/></g><defs><linearGradient id="rdbu" x1="0" y1="0" x2="0" y2="1"><stop offset="0" stop-color="#5e0a10"/><stop offset="0.22" stop-color="#b0481c"/><stop offset="0.4" stop-color="#eebca0"/><stop offset="0.5" stop-color="#f5f4f2"/><stop offset="0.6" stop-color="#bcd8ea"/><stop offset="0.75" stop-color="#4a8cc0"/><stop offset="0.9" stop-color="#0c3e7e"/><stop offset="1" stop-color="#061a58"/></linearGradient><linearGradient id="jet" x1="0" y1="0" x2="0" y2="1"><stop offset="0" stop-color="#c00000"/><stop offset="0.12" stop-color="#ff2000"/><stop offset="0.3" stop-color="#ffa000"/><stop offset="0.42" stop-color="#f0f000"/><stop offset="0.55" stop-color="#80ff80"/><stop offset="0.68" stop-color="#00e0ff"/><stop offset="0.82" stop-color="#0060ff"/><stop offset="0.92" stop-color="#0000f0"/><stop offset="1" stop-color="#00008f"/></linearGradient></defs><text x="187.3" y="59.4" font-size="11.6" font-family="Liberation Sans, sans-serif" fill="#111">u/||u||<tspan font-size="9.5" dy="1.6">∞</tspan></text><rect x="189" y="68" width="7" height="29" fill="url(#rdbu)"/><line x1="196" y1="68" x2="197.6" y2="68" stroke="#333" stroke-width="0.6"/><line x1="196" y1="82.5" x2="197.6" y2="82.5" stroke="#333" stroke-width="0.6"/><line x1="196" y1="97" x2="197.6" y2="97" stroke="#333" stroke-width="0.6"/><text x="201.8" y="73.1" font-size="11" font-family="Liberation Sans, sans-serif" fill="#111">1</text><text x="201" y="100.7" font-size="11" font-family="Liberation Sans, sans-serif" fill="#111">0</text><text x="187.3" y="133.2" font-size="11.2" font-family="Liberation Sans, sans-serif" fill="#111">|u| [nm]</text><rect x="188" y="145.4" width="6.8" height="29.3" fill="url(#jet)"/><line x1="194.8" y1="145.4" x2="196.4" y2="145.4" stroke="#333" stroke-width="0.6"/><line x1="194.8" y1="160.05" x2="196.4" y2="160.05" stroke="#333" stroke-width="0.6"/><line x1="194.8" y1="174.70000000000002" x2="196.4" y2="174.70000000000002" stroke="#333" stroke-width="0.6"/><text x="199.5" y="150.70000000000002" font-size="11" font-family="Liberation Sans, sans-serif" fill="#111">4</text><text x="199.5" y="177.9" font-size="11" font-family="Liberation Sans, sans-serif" fill="#111">2</text><text x="421.9" y="59.4" font-size="11.6" font-family="Liberation Sans, sans-serif" fill="#111">u/||u||<tspan font-size="9.5" dy="1.6">∞</tspan></text><rect x="428.3" y="68.1" width="5.5" height="29" fill="url(#rdbu)"/><line x1="433.8" y1="68.1" x2="435.40000000000003" y2="68.1" stroke="#333" stroke-width="0.6"/><line x1="433.8" y1="82.6" x2="435.40000000000003" y2="82.6" stroke="#333" stroke-width="0.6"/><line x1="433.8" y1="97.1" x2="435.40000000000003" y2="97.1" stroke="#333" stroke-width="0.6"/><text x="439.2" y="73.19999999999999" font-size="11" font-family="Liberation Sans, sans-serif" fill="#111">1</text><text x="438.2" y="100.8" font-size="11" font-family="Liberation Sans, sans-serif" fill="#111">0</text><text x="421.9" y="133.2" font-size="11.2" font-family="Liberation Sans, sans-serif" fill="#111">|u| [nm]</text><rect x="425.9" y="145.5" width="6.6" height="29.3" fill="url(#jet)"/><line x1="432.5" y1="145.5" x2="434.1" y2="145.5" stroke="#333" stroke-width="0.6"/><line x1="432.5" y1="160.15" x2="434.1" y2="160.15" stroke="#333" stroke-width="0.6"/><line x1="432.5" y1="174.8" x2="434.1" y2="174.8" stroke="#333" stroke-width="0.6"/><text x="437.7" y="150.8" font-size="11" font-family="Liberation Sans, sans-serif" fill="#111">0.7</text><text x="437.7" y="178.0" font-size="11" font-family="Liberation Sans, sans-serif" fill="#111">0.4</text><text x="649.8" y="59.4" font-size="11.6" font-family="Liberation Sans, sans-serif" fill="#111">u/||u||<tspan font-size="9.5" dy="1.6">∞</tspan></text><rect x="655.9" y="68.8" width="5.7" height="29" fill="url(#rdbu)"/><line x1="661.6" y1="68.8" x2="663.2" y2="68.8" stroke="#333" stroke-width="0.6"/><line x1="661.6" y1="83.3" x2="663.2" y2="83.3" stroke="#333" stroke-width="0.6"/><line x1="661.6" y1="97.8" x2="663.2" y2="97.8" stroke="#333" stroke-width="0.6"/><text x="666.3" y="73.89999999999999" font-size="11" font-family="Liberation Sans, sans-serif" fill="#111">1</text><text x="665.5" y="101.5" font-size="11" font-family="Liberation Sans, sans-serif" fill="#111">0</text><text x="649.8" y="133.2" font-size="11.2" font-family="Liberation Sans, sans-serif" fill="#111">|u| [nm]</text><rect x="653.75" y="145.9" width="6.5" height="29.3" fill="url(#jet)"/><line x1="660.25" y1="145.9" x2="661.85" y2="145.9" stroke="#333" stroke-width="0.6"/><line x1="660.25" y1="160.55" x2="661.85" y2="160.55" stroke="#333" stroke-width="0.6"/><line x1="660.25" y1="175.20000000000002" x2="661.85" y2="175.20000000000002" stroke="#333" stroke-width="0.6"/><text x="665.2" y="151.20000000000002" font-size="11" font-family="Liberation Sans, sans-serif" fill="#111">1</text><text x="665.2" y="178.4" font-size="11" font-family="Liberation Sans, sans-serif" fill="#111">0</text><rect x="23.2" y="231.3" width="62.2" height="152.8" fill="#fff" stroke="none"/><line x1="23.2" y1="231.3" x2="23.2" y2="384.1" stroke="#c4c4c4" stroke-width="0.8"/><line x1="85.4" y1="231.3" x2="85.4" y2="384.1" stroke="#a8a8a8" stroke-width="0.8"/><line x1="22.8" y1="231.3" x2="85.8" y2="231.3" stroke="#d88ea0" stroke-width="0.9"/><line x1="22.8" y1="384.3" x2="85.8" y2="384.3" stroke="#8cc2e8" stroke-width="0.9"/><line x1="31.7" y1="231.3" x2="31.7" y2="232.8" stroke="#d88ea0" stroke-width="0.7"/><line x1="50.1" y1="231.3" x2="50.1" y2="232.8" stroke="#d88ea0" stroke-width="0.7"/><line x1="68.0" y1="231.3" x2="68.0" y2="232.8" stroke="#d88ea0" stroke-width="0.7"/><line x1="28.5" y1="384.3" x2="28.5" y2="382.8" stroke="#8cc2e8" stroke-width="0.7"/><line x1="47.4" y1="384.3" x2="47.4" y2="382.8" stroke="#8cc2e8" stroke-width="0.7"/><line x1="66.4" y1="384.3" x2="66.4" y2="382.8" stroke="#8cc2e8" stroke-width="0.7"/><line x1="23.2" y1="273.0" x2="24.7" y2="273.0" stroke="#aaa" stroke-width="0.7"/><line x1="85.4" y1="273.0" x2="83.9" y2="273.0" stroke="#aaa" stroke-width="0.7"/><line x1="23.2" y1="318.1" x2="24.7" y2="318.1" stroke="#aaa" stroke-width="0.7"/><line x1="85.4" y1="318.1" x2="83.9" y2="318.1" stroke="#aaa" stroke-width="0.7"/><line x1="23.2" y1="362.9" x2="24.7" y2="362.9" stroke="#aaa" stroke-width="0.7"/><line x1="85.4" y1="362.9" x2="83.9" y2="362.9" stroke="#aaa" stroke-width="0.7"/><text x="21.3" y="237.3" font-size="11" font-family="Liberation Sans, sans-serif" fill="#111" text-anchor="end" >8.4</text><text x="21.9" y="275.8" font-size="11" font-family="Liberation Sans, sans-serif" fill="#111" text-anchor="end" >8.2</text><text x="21.7" y="320.3" font-size="11" font-family="Liberation Sans, sans-serif" fill="#111" text-anchor="end" >8</text><text x="22.1" y="367.4" font-size="11" font-family="Liberation Sans, sans-serif" fill="#111" text-anchor="end" >7.8</text><text x="1.8" y="220.8" font-size="11" font-family="Liberation Sans, sans-serif" fill="#111" text-anchor="start" >x10<tspan font-size="8" dy="-4.2">7</tspan></text><text x="30.3" y="226.6" font-size="11" font-family="Liberation Sans, sans-serif" fill="#a8183a" text-anchor="middle" >1</text><text x="48" y="226.6" font-size="11" font-family="Liberation Sans, sans-serif" fill="#a8183a" text-anchor="middle" >0.8</text><text x="69.8" y="226.6" font-size="11" font-family="Liberation Sans, sans-serif" fill="#a8183a" text-anchor="middle" >0.6</text><text x="90.8" y="226.6" font-size="11" font-family="Liberation Sans, sans-serif" fill="#a8183a" text-anchor="middle" >0.4</text><text x="31.2" y="213.2" font-size="12.5" font-family="Liberation Sans, sans-serif" fill="#a8183a">Q<tspan font-size="9">al</tspan>/Q<tspan font-size="9">al,max</tspan></text><text x="22.9" y="395.8" font-size="11" font-family="Liberation Sans, sans-serif" fill="#2f8fd6" text-anchor="middle" >-10</text><text x="45.8" y="395.8" font-size="11" font-family="Liberation Sans, sans-serif" fill="#2f8fd6" text-anchor="middle" >-50</text><text x="66" y="395.8" font-size="11" font-family="Liberation Sans, sans-serif" fill="#2f8fd6" text-anchor="middle" >-90</text><text x="88.9" y="395.8" font-size="11" font-family="Liberation Sans, sans-serif" fill="#2f8fd6" text-anchor="middle" >-130</text><text x="30.5" y="413.2" font-size="13.2" font-family="Liberation Sans, sans-serif" fill="#2f8fd6">|S<tspan font-size="9">21</tspan>| [dB]</text><text transform="translate(10.5,325.3) rotate(-90)" font-size="13" font-family="Liberation Sans, sans-serif" fill="#111">f [Hz]</text><text x="33.6" y="258.7" font-size="12" font-family="Liberation Sans, sans-serif" fill="#111">f<tspan font-size="8.5">2</tspan></text><text x="30.4" y="336.9" font-size="12" font-family="Liberation Sans, sans-serif" fill="#111">f<tspan font-size="8.5">1</tspan></text><text x="71.3" y="296.2" font-size="12" font-family="Liberation Sans, sans-serif" fill="#a8183a">f<tspan font-size="8.5">3</tspan></text><path d="M55.3,284.4 H85.9 L134,289 M84.4,284.4 V321.3 M55.3,284.4 V321.3 H84.4" fill="none" stroke="#555" stroke-width="0.8" stroke-dasharray="2.4,1.6"/><path d="M73,321.3 L134,371.5" fill="none" stroke="#555" stroke-width="0.8" stroke-dasharray="2.4,1.6"/><path d="M33.1,231.3 C35.08,232.52 41.42,236.43 45,238.6 C48.58,240.77 51.07,241.9 54.6,244.3 C58.13,246.7 63.32,250.1 66.2,253 C69.08,255.9 70.88,259.62 71.9,261.7 C72.92,263.78 72.78,263.75 72.3,265.5 C71.82,267.25 70.67,270.28 69,272.2 C67.33,274.12 64.7,275.65 62.3,277 C59.9,278.35 57.8,278.53 54.6,280.3 C51.4,282.07 46.3,285.1 43.1,287.6 C39.9,290.1 37.18,292.73 35.4,295.3 C33.62,297.87 32.78,301.17 32.4,303 C32.02,304.83 32.17,304.33 33.1,306.3 C34.03,308.27 35.6,312.15 38,314.8 C40.4,317.45 44.33,320.27 47.5,322.2 C50.67,324.13 53.48,324.47 57,326.4 C60.52,328.33 65.53,331.5 68.6,333.8 C71.67,336.1 73.98,338.43 75.4,340.2 C76.82,341.97 77.1,342.47 77.1,344.4 C77.1,346.33 76.82,349.5 75.4,351.8 C73.98,354.1 71.83,355.9 68.6,358.2 C65.37,360.5 59.87,363.13 56,365.6 C52.13,368.07 47.88,370.72 45.4,373 C42.92,375.28 41.98,377.55 41.1,379.3 C40.22,381.05 40.27,382.8 40.1,383.5" fill="none" stroke="#a8183a" stroke-width="1.7" stroke-linecap="round"/><path d="M56.5,231.3 C56.35,232.67 56.07,236.85 55.6,239.5 C55.13,242.15 54.83,244.32 53.7,247.2 C52.57,250.08 50.73,254.23 48.8,256.8 C46.87,259.37 44.82,261.4 42.1,262.6 C39.38,263.8 34.1,263.77 32.5,264" fill="none" stroke="#1478c8" stroke-width="1.7" stroke-linecap="round"/><path d="M32.5,264 C34.1,264.15 39.38,264.02 42.1,264.9 C44.82,265.78 46.87,267.28 48.8,269.3 C50.73,271.32 52.42,274.27 53.7,277 C54.98,279.73 55.55,282.82 56.5,285.7 C57.45,288.58 58.12,291.73 59.4,294.3 C60.68,296.87 62.12,299.43 64.2,301.1 C66.28,302.77 68.52,303.6 71.9,304.3 C75.28,305 82.4,305.13 84.5,305.3" fill="none" stroke="#1478c8" stroke-width="1.7" stroke-linecap="round"/><path d="M84.5,305.3 C82.4,305.47 75.23,305.68 71.9,306.3 C68.57,306.92 66.4,307.72 64.5,309 C62.6,310.28 61.57,311.98 60.5,314 C59.43,316.02 59.22,318.15 58.1,321.1 C56.98,324.05 55.57,328.7 53.8,331.7 C52.03,334.7 49.25,337.33 47.5,339.1 C45.75,340.87 45.6,341.7 43.3,342.3 C41,342.9 35.3,342.63 33.7,342.7" fill="none" stroke="#1478c8" stroke-width="1.7" stroke-linecap="round"/><path d="M33.7,342.7 C35.3,342.8 40.65,342.58 43.3,343.3 C45.95,344.02 47.85,345.05 49.6,347 C51.35,348.95 52.67,351.55 53.8,355 C54.93,358.45 55.68,362.95 56.4,367.7 C57.12,372.45 57.82,380.87 58.1,383.5" fill="none" stroke="#1478c8" stroke-width="1.7" stroke-linecap="round"/><polygon points="78.7,297.8 80.46,302.17 85.17,302.5 81.55,305.53 82.7,310.1 78.7,307.6 74.7,310.1 75.85,305.53 72.23,302.5 76.94,302.17" fill="#fff" fill-opacity="0.0" stroke="#a8183a" stroke-width="1.1"/><defs><linearGradient id="vnaG" x1="0" y1="0" x2="0" y2="1"><stop offset="0" stop-color="#e6e4de"/><stop offset="1" stop-color="#d2d0c8"/></linearGradient><linearGradient id="scrG" x1="0" y1="0" x2="0" y2="1"><stop offset="0" stop-color="#e4d898"/><stop offset="1" stop-color="#d8cc88"/></linearGradient></defs><rect x="102.4" y="199.2" width="67.9" height="40.3" rx="1" fill="url(#vnaG)" stroke="#b4b2aa" stroke-width="0.7"/><rect x="103.2" y="200" width="2" height="38.5" fill="#c4c2ba"/><rect x="167.6" y="200" width="2" height="38.5" fill="#c4c2ba"/><rect x="109.6" y="201.6" width="33.2" height="27" fill="#6e6c66"/><rect x="110.3" y="202.3" width="31.8" height="25.6" fill="url(#scrG)"/><rect x="137.5" y="202.3" width="4.6" height="25.6" fill="#ece2a8"/><line x1="110.3" y1="208.5" x2="137.5" y2="208.5" stroke="#c0b27a" stroke-width="0.35"/><line x1="110.3" y1="214.7" x2="137.5" y2="214.7" stroke="#c0b27a" stroke-width="0.35"/><line x1="110.3" y1="220.9" x2="137.5" y2="220.9" stroke="#c0b27a" stroke-width="0.35"/><line x1="117.1" y1="202.3" x2="117.1" y2="227.9" stroke="#c0b27a" stroke-width="0.35"/><line x1="123.9" y1="202.3" x2="123.9" y2="227.9" stroke="#c0b27a" stroke-width="0.35"/><line x1="130.7" y1="202.3" x2="130.7" y2="227.9" stroke="#c0b27a" stroke-width="0.35"/><line x1="111.5" y1="223.6" x2="123.5" y2="223.6" stroke="#70b890" stroke-width="0.9"/><line x1="113.5" y1="209.5" x2="113.5" y2="213.5" stroke="#80c0a0" stroke-width="0.7"/><line x1="123.2" y1="209.5" x2="124" y2="213.5" stroke="#80c0a0" stroke-width="0.7"/><line x1="110.3" y1="216" x2="137.5" y2="216" stroke="#c8b880" stroke-width="0.5"/><rect x="143.6" y="204" width="1.6" height="1.8" fill="#a8a8a2"/><rect x="143.6" y="206.9" width="1.6" height="1.8" fill="#a8a8a2"/><rect x="143.6" y="209.8" width="1.6" height="1.8" fill="#a8a8a2"/><rect x="143.6" y="212.7" width="1.6" height="1.8" fill="#a8a8a2"/><rect x="143.6" y="215.6" width="1.6" height="1.8" fill="#a8a8a2"/><rect x="143.6" y="218.5" width="1.6" height="1.8" fill="#a8a8a2"/><rect x="143.6" y="221.4" width="1.6" height="1.8" fill="#a8a8a2"/><rect x="143.6" y="224.3" width="1.6" height="1.8" fill="#a8a8a2"/><rect x="148" y="202.8" width="2" height="1.7" fill="#8e8e8a"/><rect x="150.6" y="202.8" width="2" height="1.7" fill="#8e8e8a"/><rect x="148" y="205.2" width="2" height="1.7" fill="#8e8e8a"/><rect x="150.6" y="205.2" width="2" height="1.7" fill="#8e8e8a"/><rect x="148" y="207.6" width="2" height="1.7" fill="#8e8e8a"/><rect x="150.6" y="207.6" width="2" height="1.7" fill="#8e8e8a"/><rect x="148" y="210" width="2" height="1.7" fill="#8e8e8a"/><rect x="150.6" y="210" width="2" height="1.7" fill="#8e8e8a"/><rect x="155.5" y="209.5" width="1.7" height="1.5" fill="#b2b2ae"/><rect x="157.9" y="209.5" width="1.7" height="1.5" fill="#b2b2ae"/><rect x="160.3" y="209.5" width="1.7" height="1.5" fill="#b2b2ae"/><rect x="162.7" y="209.5" width="1.7" height="1.5" fill="#b2b2ae"/><rect x="155.5" y="211.8" width="1.7" height="1.5" fill="#b2b2ae"/><rect x="157.9" y="211.8" width="1.7" height="1.5" fill="#b2b2ae"/><rect x="160.3" y="211.8" width="1.7" height="1.5" fill="#b2b2ae"/><rect x="162.7" y="211.8" width="1.7" height="1.5" fill="#b2b2ae"/><rect x="155.5" y="214.1" width="1.7" height="1.5" fill="#b2b2ae"/><rect x="157.9" y="214.1" width="1.7" height="1.5" fill="#b2b2ae"/><rect x="160.3" y="214.1" width="1.7" height="1.5" fill="#b2b2ae"/><rect x="162.7" y="214.1" width="1.7" height="1.5" fill="#b2b2ae"/><rect x="155.5" y="216.4" width="1.7" height="1.5" fill="#b2b2ae"/><rect x="157.9" y="216.4" width="1.7" height="1.5" fill="#b2b2ae"/><rect x="160.3" y="216.4" width="1.7" height="1.5" fill="#b2b2ae"/><rect x="162.7" y="216.4" width="1.7" height="1.5" fill="#b2b2ae"/><rect x="155.5" y="218.7" width="1.7" height="1.5" fill="#b2b2ae"/><rect x="157.9" y="218.7" width="1.7" height="1.5" fill="#b2b2ae"/><rect x="160.3" y="218.7" width="1.7" height="1.5" fill="#b2b2ae"/><rect x="162.7" y="218.7" width="1.7" height="1.5" fill="#b2b2ae"/><rect x="155.5" y="221" width="1.7" height="1.5" fill="#b2b2ae"/><rect x="157.9" y="221" width="1.7" height="1.5" fill="#b2b2ae"/><rect x="160.3" y="221" width="1.7" height="1.5" fill="#b2b2ae"/><rect x="162.7" y="221" width="1.7" height="1.5" fill="#b2b2ae"/><rect x="148" y="218" width="2" height="1.6" fill="#8a8a86"/><rect x="150.6" y="218" width="2" height="1.6" fill="#8a8a86"/><rect x="148" y="220.4" width="2" height="1.6" fill="#8a8a86"/><rect x="150.6" y="220.4" width="2" height="1.6" fill="#8a8a86"/><rect x="148" y="222.8" width="2" height="1.6" fill="#8a8a86"/><rect x="150.6" y="222.8" width="2" height="1.6" fill="#8a8a86"/><rect x="161.4" y="211.5" width="1.6" height="1.2" fill="#40a0a0"/><circle cx="157.6" cy="203.8" r="2.1" fill="#fafaf8" stroke="#9a9a96" stroke-width="0.4"/><circle cx="163.8" cy="204.2" r="2.6" fill="#efefec" stroke="#8a8a86" stroke-width="0.5"/><rect x="149.5" y="226.3" width="2.4" height="0.9" fill="#444"/><rect x="153.9" y="226.3" width="2.4" height="0.9" fill="#444"/><rect x="158.3" y="226.3" width="2.4" height="0.9" fill="#444"/><rect x="162.7" y="226.3" width="2.4" height="0.9" fill="#444"/><line x1="102.6" y1="229.6" x2="170" y2="229.6" stroke="#b0aea6" stroke-width="0.5"/><rect x="108.8" y="231.5" width="1.3" height="1.5" fill="#c8a448"/><rect x="110.6" y="231.5" width="1.3" height="1.5" fill="#c8a448"/><rect x="108.8" y="234" width="1.3" height="1.5" fill="#c8a448"/><rect x="110.6" y="234" width="1.3" height="1.5" fill="#c8a448"/><rect x="108.8" y="236.5" width="1.3" height="1.5" fill="#c8a448"/><rect x="110.6" y="236.5" width="1.3" height="1.5" fill="#c8a448"/><rect x="132.5" y="231.5" width="1.3" height="1.5" fill="#c8a448"/><rect x="134.3" y="231.5" width="1.3" height="1.5" fill="#c8a448"/><rect x="136.1" y="231.5" width="1.3" height="1.5" fill="#c8a448"/><rect x="138" y="231.5" width="1.3" height="1.5" fill="#c8a448"/><rect x="132.5" y="234" width="1.3" height="1.5" fill="#c8a448"/><rect x="134.3" y="234" width="1.3" height="1.5" fill="#c8a448"/><rect x="136.1" y="234" width="1.3" height="1.5" fill="#c8a448"/><rect x="138" y="234" width="1.3" height="1.5" fill="#c8a448"/><rect x="132.5" y="236.5" width="1.3" height="1.5" fill="#c8a448"/><rect x="134.3" y="236.5" width="1.3" height="1.5" fill="#c8a448"/><rect x="136.1" y="236.5" width="1.3" height="1.5" fill="#c8a448"/><rect x="138" y="236.5" width="1.3" height="1.5" fill="#c8a448"/><rect x="161.2" y="231.5" width="1.3" height="1.5" fill="#c8a448"/><rect x="163" y="231.5" width="1.3" height="1.5" fill="#c8a448"/><rect x="161.2" y="234" width="1.3" height="1.5" fill="#c8a448"/><rect x="163" y="234" width="1.3" height="1.5" fill="#c8a448"/><rect x="161.2" y="236.5" width="1.3" height="1.5" fill="#c8a448"/><rect x="163" y="236.5" width="1.3" height="1.5" fill="#c8a448"/><circle cx="115.3" cy="233.3" r="2.2" fill="#c8c6c0" stroke="#7a7a76" stroke-width="0.6"/><circle cx="115.3" cy="233.3" r="0.8" fill="#8a8a86"/><circle cx="127.5" cy="234.3" r="2.4" fill="#c8c6c0" stroke="#7a7a76" stroke-width="0.6"/><circle cx="127.5" cy="234.3" r="0.8" fill="#8a8a86"/><circle cx="144.8" cy="234.3" r="2.3" fill="#c8c6c0" stroke="#7a7a76" stroke-width="0.6"/><circle cx="144.8" cy="234.3" r="0.8" fill="#8a8a86"/><circle cx="157" cy="233.5" r="2.3" fill="#c8c6c0" stroke="#7a7a76" stroke-width="0.6"/><circle cx="157" cy="233.5" r="0.8" fill="#8a8a86"/><rect x="115" y="234" width="1.4" height="2" fill="#222"/><rect x="161" y="233" width="1.4" height="2" fill="#222"/><rect x="106" y="239.2" width="62" height="1.2" fill="#8a8a86"/><defs><clipPath id="chipclip"><circle cx="198.3" cy="234.6" r="24.9"/></clipPath><radialGradient id="goldG" cx="0.5" cy="0.5" r="0.5"><stop offset="0" stop-color="#ffe890"/><stop offset="0.45" stop-color="#e8b030"/><stop offset="0.8" stop-color="#f0c040" stop-opacity="0.5"/><stop offset="1" stop-color="#f0c040" stop-opacity="0"/></radialGradient></defs><g clip-path="url(#chipclip)"><rect x="170" y="205" width="60" height="60" fill="#404040"/><g transform="translate(198.5,234.8) rotate(30)"><rect x="-30" y="-22" width="60" height="44" fill="#5c5c5c"/><rect x="-26" y="-18" width="52" height="36" fill="#666" stroke="#8a8a8a" stroke-width="0.8"/><line x1="-23.5" y1="-16" x2="-23.5" y2="16" stroke="#c8c8c8" stroke-width="1.8" stroke-dasharray="0.6,0.7"/><line x1="23.5" y1="-16" x2="23.5" y2="16" stroke="#c8c8c8" stroke-width="1.8" stroke-dasharray="0.6,0.7"/><rect x="-20" y="-16" width="40" height="32" fill="none" stroke="#4a4a4a" stroke-width="1.2"/><rect x="-14" y="-11" width="28" height="22" fill="#7a7a7a" stroke="#9a9a9a" stroke-width="0.6"/><rect x="-12" y="-9.5" width="24" height="2" fill="#111"/><rect x="-12" y="7.5" width="24" height="2" fill="#111"/><rect x="-10" y="-6.5" width="20" height="13" fill="#8a8a8a"/><line x1="-9" y1="-6.5" x2="-9" y2="6.5" stroke="#a8a8a8" stroke-width="0.5"/><line x1="-6.8" y1="-6.5" x2="-6.8" y2="6.5" stroke="#a8a8a8" stroke-width="0.5"/><line x1="-4.6" y1="-6.5" x2="-4.6" y2="6.5" stroke="#a8a8a8" stroke-width="0.5"/><line x1="-2.4" y1="-6.5" x2="-2.4" y2="6.5" stroke="#a8a8a8" stroke-width="0.5"/><line x1="-0.2" y1="-6.5" x2="-0.2" y2="6.5" stroke="#a8a8a8" stroke-width="0.5"/><line x1="2" y1="-6.5" x2="2" y2="6.5" stroke="#a8a8a8" stroke-width="0.5"/><line x1="4.2" y1="-6.5" x2="4.2" y2="6.5" stroke="#a8a8a8" stroke-width="0.5"/><line x1="6.4" y1="-6.5" x2="6.4" y2="6.5" stroke="#a8a8a8" stroke-width="0.5"/><line x1="8.6" y1="-6.5" x2="8.6" y2="6.5" stroke="#a8a8a8" stroke-width="0.5"/><rect x="-0.4" y="-6.5" width="0.8" height="13" fill="#c0c0c0"/></g><ellipse cx="211" cy="215.5" rx="11" ry="7" fill="url(#goldG)" transform="rotate(30 211 215.5)"/><ellipse cx="186" cy="253.5" rx="11" ry="7" fill="url(#goldG)" transform="rotate(30 186 253.5)"/><path d="M203.5,215 q1.2,-3.5 3.2,-1" stroke="#fff8d8" stroke-width="1.1" fill="none"/><path d="M179,251 q1.2,-3.5 3.2,-1" stroke="#fff8d8" stroke-width="1.1" fill="none"/><path d="M206.7,216.9 q1.2,-3.5 3.2,-1" stroke="#fff8d8" stroke-width="1.1" fill="none"/><path d="M182.2,252.9 q1.2,-3.5 3.2,-1" stroke="#fff8d8" stroke-width="1.1" fill="none"/><path d="M209.9,218.8 q1.2,-3.5 3.2,-1" stroke="#fff8d8" stroke-width="1.1" fill="none"/><path d="M185.4,254.8 q1.2,-3.5 3.2,-1" stroke="#fff8d8" stroke-width="1.1" fill="none"/><path d="M213.1,220.7 q1.2,-3.5 3.2,-1" stroke="#fff8d8" stroke-width="1.1" fill="none"/><path d="M188.6,256.7 q1.2,-3.5 3.2,-1" stroke="#fff8d8" stroke-width="1.1" fill="none"/></g><circle cx="198.3" cy="234.6" r="24.9" fill="none" stroke="#1a1a1a" stroke-width="0.8"/><path d="M178.5,217 C180,204 196,196 206,202 L209.6,207.6" fill="none" stroke="#222" stroke-width="0.8" stroke-dasharray="2.2,1.3,0.6,1.3"/><path d="M206.5,203.5 l3.5,4.5 l-4.8,-0.6 z" fill="#222"/><path d="M116.6,242.7 C118,252 150,251 178.3,250.3" fill="none" stroke="#222" stroke-width="0.8" stroke-dasharray="2.2,1.3,0.6,1.3"/><path d="M178.8,250.3 l-4.5,-2 l0,4 z" fill="#222"/><path d="M169.6,230.8 L176,230" fill="none" stroke="#222" stroke-width="0.8" stroke-dasharray="1.5,1"/><rect x="135.2" y="274.3" width="61" height="110.5" fill="#fff" stroke="#c8c8c8" stroke-width="0.7"/><path d="M142.12,275.3 L136.6,275.78 L160.7,276.26 L144.43,276.75 L149.49,277.1 L156.51,277.48 L142.56,277.78 L151.5,278.21 L143.98,278.47 L148.33,278.93 L144.4,279.43 L139.43,279.73 L143.26,280.01 L146.95,280.42 L148.71,280.74 L143.17,280.98 L167,281.37 L146.88,281.68 L141.85,281.99 L173.1,282.41 L146.04,282.64 L145.33,283.08 L155.93,283.46 L148.04,283.73 L151.76,284.21 L140.7,284.53 L145.71,284.78 L154.81,285.22 L148.8,285.46 L142.96,285.86 L153.78,286.23 L150.87,286.54 L149.53,286.8 L147.58,287.03 L148.14,287.4 L152.53,287.85 L174.54,288.19 L149.18,288.42 L146.89,288.85 L151.44,289.24 L150.97,289.5 L155.49,289.81 L149.03,290.3 L146.42,290.66 L154.63,290.99 L149.96,291.49 L148.99,291.88 L151.14,292.18 L151.42,292.64 L144.56,293.05 L149.69,293.49 L147.98,293.84 L159.49,294.26 L155.26,294.66 L151.43,294.95 L147.62,295.3 L146.55,295.62 L147.75,296.04 L157.1,296.51 L147.88,297 L151.67,297.27 L150.4,297.75 L160.23,298.17 L147.65,298.56 L153.61,298.89 L165.09,299.32 L148.42,299.66 L152.65,299.94 L156.8,300.29 L152.86,300.55 L156.93,300.82 L150.4,301.17 L151.06,301.46 L153.47,301.68 L157.64,301.93 L175,302.25 L152.07,302.5 L158.47,302.99 L152.78,303.33 L152.39,303.59 L159.67,303.96 L154.31,304.28 L161.74,304.5 L162.29,304.9 L153.51,305.36 L156.87,305.67 L159.92,305.99 L153.77,306.29 L152.16,306.64 L162.31,307 L165.45,307.26 L164.4,307.6 L176.03,308.05 L157.55,308.35 L166.1,308.64 L154.8,308.95 L153,309.3 L154.17,309.55 L156.24,309.86 L160.32,310.22 L157.23,310.55 L157.64,310.84 L157.79,311.31 L158.38,311.75 L156.08,312.13 L156.04,312.61 L160.01,312.94 L184.16,313.39 L162.14,313.8 L161.18,314.1 L158.74,314.46 L162.47,314.82 L173.47,315.26 L164.01,315.71 L183.2,316.12 L160.37,316.61 L167.77,317.07 L160.08,317.56 L169.73,317.81 L159.61,318.08 L172.57,318.47 L165,318.8 L162.86,319.18 L167.62,319.64 L154.16,319.95 L184.56,320.28 L162.95,320.54 L158.13,320.9 L161.12,321.19 L161.04,321.48 L162.78,321.77 L170.44,322.2 L170.35,322.6 L170.01,322.85 L160.59,323.13 L186.55,323.58 L172.59,323.81 L167.75,324.22 L164.64,324.71 L171.22,325.16 L169.61,325.48 L163.4,325.87 L166.2,326.33 L167.63,326.77 L162.06,327.16 L166.27,327.59 L191.56,327.86 L166.33,328.22 L169.56,328.44 L163.05,328.78 L170.13,329.02 L167.75,329.35 L170.42,329.64 L172.48,329.94 L165.35,330.17 L164.89,330.49 L162.28,330.85 L165.8,331.1 L171.49,331.52 L170.85,331.75 L172.46,332.08 L164.96,332.4 L168.41,332.83 L175.01,333.1 L159.8,333.58 L192.1,333.8 L187.86,334.14 L172.45,334.63 L171.82,334.95 L169.21,335.42 L184.59,335.71 L173.37,335.95 L177.5,336.25 L173.61,336.74 L166.96,337.08 L170.6,337.32 L169.73,337.8 L169.96,338.26 L163.7,338.63 L165.06,339.02 L160.24,339.5 L171.01,339.78 L168.03,340.03 L166.79,340.48 L171.26,340.77 L168.88,341.15 L178.11,341.56 L166.2,341.86 L162.84,342.11 L170.12,342.49 L161.42,342.89 L162.83,343.34 L163.45,343.83 L161.5,344.27 L176.16,344.53 L163.53,344.82 L164.8,345.26 L174.97,345.48 L167.79,345.8 L161.74,346.09 L167.55,346.41 L163.2,346.86 L165.28,347.11 L167.28,347.45 L167.27,347.9 L158.79,348.37 L163.42,348.81 L160.47,349.18 L160.67,349.62 L165.82,349.86 L162.21,350.21 L165.8,350.54 L157.48,350.82 L165.32,351.11 L164.3,351.4 L154.98,351.79 L159.5,352.05 L167.62,352.32 L167.88,352.79 L160.01,353.1 L160.77,353.56 L156.49,353.79 L164.79,354.17 L174.24,354.48 L158.17,354.81 L155.64,355.3 L156.68,355.78 L154.8,356.22 L155.57,356.61 L163.34,356.85 L157.64,357.23 L160.3,357.65 L165.16,358.07 L156.28,358.48 L160.16,358.95 L163.15,359.34 L165.68,359.82 L151.92,360.19 L158.71,360.41 L160.79,360.88 L160.18,361.27 L159.26,361.65 L156.5,361.97 L158.52,362.27 L162.27,362.74 L158.65,363.17 L159.06,363.55 L151.15,363.89 L153.88,364.26 L157.2,364.65 L165.66,364.92 L155.18,365.3 L156.13,365.68 L157.54,366.1 L155.17,366.55 L148.8,366.86 L147.28,367.14 L155.01,367.6 L157,367.86 L160.46,368.25 L154.03,368.68 L160.08,369.12 L148.41,369.52 L155.59,369.77 L147.11,370.05 L157.3,370.47 L153.02,370.85 L147.95,371.1 L155.08,371.46 L158.75,371.94 L154.7,372.37 L150.23,372.72 L156.67,373.05 L142.9,373.46 L155.33,373.84 L153.47,374.3 L151.07,374.59 L153.43,374.83 L146.44,375.18 L154.6,375.66 L172.81,376.11 L162.87,376.43 L148.08,376.78 L161.93,377.14 L147.13,377.64 L148.66,377.93 L151.43,378.35 L149.12,378.78 L144.87,379.17 L171.35,379.4 L143.75,379.74 L138.19,380.19 L155.93,380.62 L139.01,380.88 L152.34,381.38 L150.94,381.68 L148.01,381.98 L151.65,382.32 L147.6,382.8 L170.76,383.07 L147.43,383.56 L147.46,384.04" fill="none" stroke="#000" stroke-width="0.6" stroke-linejoin="bevel"/><path d="M143.3,275 L169.6,334.5 L147.1,382.9" fill="none" stroke="#3cb0e8" stroke-width="1.8" stroke-dasharray="2.2,0.9"/><rect x="134.2" y="272.6" width="64.9" height="112.9" fill="none" stroke="#555" stroke-width="0.8" stroke-dasharray="2.6,1.8"/><text transform="translate(193.8,354) rotate(-90)" font-size="12.2" font-family="Liberation Serif, serif" fill="#5ab6e6">Q<tspan font-size="8.5">fit</tspan> = 10096</text><text x="132.3" y="281.2" font-size="11" font-family="Liberation Sans, sans-serif" fill="#111" text-anchor="end" >8.022</text><text x="132.3" y="314.8" font-size="11" font-family="Liberation Sans, sans-serif" fill="#111" text-anchor="end" >8.021</text><text x="132.3" y="351.7" font-size="11" font-family="Liberation Sans, sans-serif" fill="#111" text-anchor="end" >8.02</text><text x="132.3" y="384.1" font-size="11" font-family="Liberation Sans, sans-serif" fill="#111" text-anchor="end" >8.019</text><text x="109.6" y="269.6" font-size="11" font-family="Liberation Sans, sans-serif" fill="#111" text-anchor="start" >x10<tspan font-size="8" dy="-4.2">7</tspan></text><text transform="translate(100.4,321.3) rotate(-90)" font-size="13" font-family="Liberation Sans, sans-serif" fill="#111">f [Hz]</text><text x="123.5" y="395.5" font-size="11" font-family="Liberation Sans, sans-serif" fill="#111" text-anchor="start" >-90-100 -110 -120</text><text x="143.3" y="412.3" font-size="13" font-family="Liberation Sans, sans-serif" fill="#111">|S<tspan font-size="9">21</tspan>| [dB]</text><line x1="135.2" y1="277.8" x2="136.6" y2="277.8" stroke="#aaa" stroke-width="0.6"/><line x1="135.2" y1="311.4" x2="136.6" y2="311.4" stroke="#aaa" stroke-width="0.6"/><line x1="135.2" y1="348.1" x2="136.6" y2="348.1" stroke="#aaa" stroke-width="0.6"/><line x1="135.2" y1="380.6" x2="136.6" y2="380.6" stroke="#aaa" stroke-width="0.6"/><line x1="253.5" y1="363.81" x2="433.6" y2="363.81" stroke="#e6e6e6" stroke-width="0.7"/><line x1="253.5" y1="351.94" x2="433.6" y2="351.94" stroke="#e6e6e6" stroke-width="0.7"/><line x1="253.5" y1="343.52" x2="433.6" y2="343.52" stroke="#e6e6e6" stroke-width="0.7"/><line x1="253.5" y1="336.99" x2="433.6" y2="336.99" stroke="#e6e6e6" stroke-width="0.7"/><line x1="253.5" y1="331.65" x2="433.6" y2="331.65" stroke="#e6e6e6" stroke-width="0.7"/><line x1="253.5" y1="327.14" x2="433.6" y2="327.14" stroke="#e6e6e6" stroke-width="0.7"/><line x1="253.5" y1="323.23" x2="433.6" y2="323.23" stroke="#e6e6e6" stroke-width="0.7"/><line x1="253.5" y1="319.78" x2="433.6" y2="319.78" stroke="#e6e6e6" stroke-width="0.7"/><line x1="253.5" y1="296.41" x2="433.6" y2="296.41" stroke="#e6e6e6" stroke-width="0.7"/><line x1="253.5" y1="284.54" x2="433.6" y2="284.54" stroke="#e6e6e6" stroke-width="0.7"/><line x1="253.5" y1="276.12" x2="433.6" y2="276.12" stroke="#e6e6e6" stroke-width="0.7"/><line x1="253.5" y1="269.59" x2="433.6" y2="269.59" stroke="#e6e6e6" stroke-width="0.7"/><line x1="253.5" y1="264.25" x2="433.6" y2="264.25" stroke="#e6e6e6" stroke-width="0.7"/><line x1="253.5" y1="259.74" x2="433.6" y2="259.74" stroke="#e6e6e6" stroke-width="0.7"/><line x1="253.5" y1="255.83" x2="433.6" y2="255.83" stroke="#e6e6e6" stroke-width="0.7"/><line x1="253.5" y1="252.38" x2="433.6" y2="252.38" stroke="#e6e6e6" stroke-width="0.7"/><line x1="253.5" y1="249.3" x2="433.6" y2="249.3" stroke="#cfcfcf" stroke-width="0.8"/><line x1="253.5" y1="316.7" x2="433.6" y2="316.7" stroke="#cfcfcf" stroke-width="0.8"/><line x1="307.7" y1="229.1" x2="307.7" y2="384.3" stroke="#d6d6d6" stroke-width="0.8"/><line x1="362.3" y1="229.1" x2="362.3" y2="384.3" stroke="#d6d6d6" stroke-width="0.8"/><line x1="417.3" y1="229.1" x2="417.3" y2="384.3" stroke="#d6d6d6" stroke-width="0.8"/><rect x="253.5" y="229.1" width="180.1" height="155.2" fill="none" stroke="#a4a4a4" stroke-width="0.9"/><line x1="253.5" y1="363.81" x2="254.8" y2="363.81" stroke="#666" stroke-width="0.6"/><line x1="433.6" y1="363.81" x2="432.3" y2="363.81" stroke="#666" stroke-width="0.6"/><line x1="253.5" y1="351.94" x2="254.8" y2="351.94" stroke="#666" stroke-width="0.6"/><line x1="433.6" y1="351.94" x2="432.3" y2="351.94" stroke="#666" stroke-width="0.6"/><line x1="253.5" y1="343.52" x2="254.8" y2="343.52" stroke="#666" stroke-width="0.6"/><line x1="433.6" y1="343.52" x2="432.3" y2="343.52" stroke="#666" stroke-width="0.6"/><line x1="253.5" y1="336.99" x2="254.8" y2="336.99" stroke="#666" stroke-width="0.6"/><line x1="433.6" y1="336.99" x2="432.3" y2="336.99" stroke="#666" stroke-width="0.6"/><line x1="253.5" y1="331.65" x2="254.8" y2="331.65" stroke="#666" stroke-width="0.6"/><line x1="433.6" y1="331.65" x2="432.3" y2="331.65" stroke="#666" stroke-width="0.6"/><line x1="253.5" y1="327.14" x2="254.8" y2="327.14" stroke="#666" stroke-width="0.6"/><line x1="433.6" y1="327.14" x2="432.3" y2="327.14" stroke="#666" stroke-width="0.6"/><line x1="253.5" y1="323.23" x2="254.8" y2="323.23" stroke="#666" stroke-width="0.6"/><line x1="433.6" y1="323.23" x2="432.3" y2="323.23" stroke="#666" stroke-width="0.6"/><line x1="253.5" y1="319.78" x2="254.8" y2="319.78" stroke="#666" stroke-width="0.6"/><line x1="433.6" y1="319.78" x2="432.3" y2="319.78" stroke="#666" stroke-width="0.6"/><line x1="253.5" y1="296.41" x2="254.8" y2="296.41" stroke="#666" stroke-width="0.6"/><line x1="433.6" y1="296.41" x2="432.3" y2="296.41" stroke="#666" stroke-width="0.6"/><line x1="253.5" y1="284.54" x2="254.8" y2="284.54" stroke="#666" stroke-width="0.6"/><line x1="433.6" y1="284.54" x2="432.3" y2="284.54" stroke="#666" stroke-width="0.6"/><line x1="253.5" y1="276.12" x2="254.8" y2="276.12" stroke="#666" stroke-width="0.6"/><line x1="433.6" y1="276.12" x2="432.3" y2="276.12" stroke="#666" stroke-width="0.6"/><line x1="253.5" y1="269.59" x2="254.8" y2="269.59" stroke="#666" stroke-width="0.6"/><line x1="433.6" y1="269.59" x2="432.3" y2="269.59" stroke="#666" stroke-width="0.6"/><line x1="253.5" y1="264.25" x2="254.8" y2="264.25" stroke="#666" stroke-width="0.6"/><line x1="433.6" y1="264.25" x2="432.3" y2="264.25" stroke="#666" stroke-width="0.6"/><line x1="253.5" y1="259.74" x2="254.8" y2="259.74" stroke="#666" stroke-width="0.6"/><line x1="433.6" y1="259.74" x2="432.3" y2="259.74" stroke="#666" stroke-width="0.6"/><line x1="253.5" y1="255.83" x2="254.8" y2="255.83" stroke="#666" stroke-width="0.6"/><line x1="433.6" y1="255.83" x2="432.3" y2="255.83" stroke="#666" stroke-width="0.6"/><line x1="253.5" y1="252.38" x2="254.8" y2="252.38" stroke="#666" stroke-width="0.6"/><line x1="433.6" y1="252.38" x2="432.3" y2="252.38" stroke="#666" stroke-width="0.6"/><line x1="253.5" y1="249.3" x2="254.8" y2="249.3" stroke="#666" stroke-width="0.6"/><line x1="433.6" y1="249.3" x2="432.3" y2="249.3" stroke="#666" stroke-width="0.6"/><line x1="253.5" y1="316.7" x2="254.8" y2="316.7" stroke="#666" stroke-width="0.6"/><line x1="433.6" y1="316.7" x2="432.3" y2="316.7" stroke="#666" stroke-width="0.6"/><line x1="307.7" y1="229.1" x2="307.7" y2="230.4" stroke="#666" stroke-width="0.6"/><line x1="307.7" y1="384.3" x2="307.7" y2="383.0" stroke="#666" stroke-width="0.6"/><line x1="362.3" y1="229.1" x2="362.3" y2="230.4" stroke="#666" stroke-width="0.6"/><line x1="362.3" y1="384.3" x2="362.3" y2="383.0" stroke="#666" stroke-width="0.6"/><line x1="417.3" y1="229.1" x2="417.3" y2="230.4" stroke="#666" stroke-width="0.6"/><line x1="417.3" y1="384.3" x2="417.3" y2="383.0" stroke="#666" stroke-width="0.6"/><line x1="254" y1="289.5" x2="433" y2="289.5" stroke="#ec6a32" stroke-width="1.4" stroke-dasharray="2.9,1.9"/><text x="256.3" y="286.5" font-size="12.2" font-family="Liberation Sans, sans-serif" fill="#a8183a" text-anchor="start" >Literature</text><text x="312.6" y="249.6" font-size="12.2" font-family="Liberation Sans, sans-serif" fill="#a8183a" text-anchor="start" >This work</text><text x="249.3" y="252.2" font-size="11.4" font-family="Liberation Sans, sans-serif" fill="#111" text-anchor="end" >10<tspan font-size="8.4" dy="-4.5">4</tspan></text><text x="250.1" y="320.2" font-size="11.4" font-family="Liberation Sans, sans-serif" fill="#111" text-anchor="end" >10<tspan font-size="8.4" dy="-4.5">3</tspan></text><text x="250.1" y="388" font-size="11.4" font-family="Liberation Sans, sans-serif" fill="#111" text-anchor="end" >10<tspan font-size="8.4" dy="-4.5">2</tspan></text><text x="309.8" y="398.6" font-size="11.4" font-family="Liberation Sans, sans-serif" fill="#111" text-anchor="middle" >10<tspan font-size="8.4" dy="-4.5">8</tspan></text><text x="417.2" y="398.6" font-size="11.4" font-family="Liberation Sans, sans-serif" fill="#111" text-anchor="middle" >10<tspan font-size="8.4" dy="-4.5">10</tspan></text><text x="343" y="409.2" font-size="13.5" font-family="Liberation Sans, sans-serif" fill="#111" text-anchor="middle" >f [Hz]</text><text transform="translate(229.6,304.3) rotate(-90)" font-size="13" font-family="Liberation Sans, sans-serif" fill="#111" text-anchor="middle">Q</text><circle cx="286" cy="312" r="3.1" fill="#14ee84"/><circle cx="329.8" cy="309" r="3.1" fill="#1a62d2"/><circle cx="333.1" cy="311.1" r="3.1" fill="#1a82c2"/><circle cx="334.3" cy="304.9" r="3.1" fill="#26d8a0"/><circle cx="339.9" cy="301.9" r="3.1" fill="#1a62d2"/><circle cx="346.1" cy="311.5" r="3.1" fill="#1a62d2"/><circle cx="343.4" cy="320.1" r="3.1" fill="#1a82c2"/><circle cx="345.1" cy="337.2" r="3.1" fill="#20c8a0"/><circle cx="360.6" cy="301.9" r="3.1" fill="#0a0af2"/><circle cx="359.7" cy="320.1" r="3.1" fill="#14ee84"/><circle cx="378.5" cy="321.3" r="3.1" fill="#0a0af2"/><circle cx="385.6" cy="289.6" r="3.1" fill="#0a0af2"/><circle cx="404.2" cy="333.8" r="3.1" fill="#1a82c2"/><circle cx="407.1" cy="329.6" r="3.1" fill="#26d8a0"/><circle cx="398.8" cy="350.8" r="3.1" fill="#1a62d2"/><circle cx="415.8" cy="341.5" r="3.1" fill="#20d0a0"/><circle cx="428.3" cy="353.7" r="3.1" fill="#14ee84"/><polygon points="300.51,240.33 303.75,245.2 309.59,244.76 305.96,249.36 308.19,254.77 302.69,252.74 298.23,256.53 298.47,250.68 293.48,247.6 299.12,246.02" fill="none" stroke="#a8183a" stroke-width="1.1"/><circle cx="302.6" cy="249.2" r="3.1" fill="#14ee84"/><line x1="472.3" y1="363.87" x2="650.8" y2="363.87" stroke="#e6e6e6" stroke-width="0.7"/><line x1="472.3" y1="351.86" x2="650.8" y2="351.86" stroke="#e6e6e6" stroke-width="0.7"/><line x1="472.3" y1="343.34" x2="650.8" y2="343.34" stroke="#e6e6e6" stroke-width="0.7"/><line x1="472.3" y1="336.73" x2="650.8" y2="336.73" stroke="#e6e6e6" stroke-width="0.7"/><line x1="472.3" y1="331.33" x2="650.8" y2="331.33" stroke="#e6e6e6" stroke-width="0.7"/><line x1="472.3" y1="326.76" x2="650.8" y2="326.76" stroke="#e6e6e6" stroke-width="0.7"/><line x1="472.3" y1="322.81" x2="650.8" y2="322.81" stroke="#e6e6e6" stroke-width="0.7"/><line x1="472.3" y1="319.32" x2="650.8" y2="319.32" stroke="#e6e6e6" stroke-width="0.7"/><line x1="472.3" y1="295.67" x2="650.8" y2="295.67" stroke="#e6e6e6" stroke-width="0.7"/><line x1="472.3" y1="283.66" x2="650.8" y2="283.66" stroke="#e6e6e6" stroke-width="0.7"/><line x1="472.3" y1="275.14" x2="650.8" y2="275.14" stroke="#e6e6e6" stroke-width="0.7"/><line x1="472.3" y1="268.53" x2="650.8" y2="268.53" stroke="#e6e6e6" stroke-width="0.7"/><line x1="472.3" y1="263.13" x2="650.8" y2="263.13" stroke="#e6e6e6" stroke-width="0.7"/><line x1="472.3" y1="258.56" x2="650.8" y2="258.56" stroke="#e6e6e6" stroke-width="0.7"/><line x1="472.3" y1="254.61" x2="650.8" y2="254.61" stroke="#e6e6e6" stroke-width="0.7"/><line x1="472.3" y1="251.12" x2="650.8" y2="251.12" stroke="#e6e6e6" stroke-width="0.7"/><line x1="472.77" y1="228.4" x2="472.77" y2="384.8" stroke="#e6e6e6" stroke-width="0.7"/><line x1="479.8" y1="228.4" x2="479.8" y2="384.8" stroke="#e6e6e6" stroke-width="0.7"/><line x1="485.74" y1="228.4" x2="485.74" y2="384.8" stroke="#e6e6e6" stroke-width="0.7"/><line x1="490.89" y1="228.4" x2="490.89" y2="384.8" stroke="#e6e6e6" stroke-width="0.7"/><line x1="495.44" y1="228.4" x2="495.44" y2="384.8" stroke="#e6e6e6" stroke-width="0.7"/><line x1="526.23" y1="228.4" x2="526.23" y2="384.8" stroke="#e6e6e6" stroke-width="0.7"/><line x1="541.87" y1="228.4" x2="541.87" y2="384.8" stroke="#e6e6e6" stroke-width="0.7"/><line x1="552.96" y1="228.4" x2="552.96" y2="384.8" stroke="#e6e6e6" stroke-width="0.7"/><line x1="561.57" y1="228.4" x2="561.57" y2="384.8" stroke="#e6e6e6" stroke-width="0.7"/><line x1="568.6" y1="228.4" x2="568.6" y2="384.8" stroke="#e6e6e6" stroke-width="0.7"/><line x1="574.54" y1="228.4" x2="574.54" y2="384.8" stroke="#e6e6e6" stroke-width="0.7"/><line x1="579.69" y1="228.4" x2="579.69" y2="384.8" stroke="#e6e6e6" stroke-width="0.7"/><line x1="584.24" y1="228.4" x2="584.24" y2="384.8" stroke="#e6e6e6" stroke-width="0.7"/><line x1="615.03" y1="228.4" x2="615.03" y2="384.8" stroke="#e6e6e6" stroke-width="0.7"/><line x1="630.67" y1="228.4" x2="630.67" y2="384.8" stroke="#e6e6e6" stroke-width="0.7"/><line x1="641.76" y1="228.4" x2="641.76" y2="384.8" stroke="#e6e6e6" stroke-width="0.7"/><line x1="650.37" y1="228.4" x2="650.37" y2="384.8" stroke="#e6e6e6" stroke-width="0.7"/><line x1="472.3" y1="248.1" x2="650.8" y2="248.1" stroke="#cfcfcf" stroke-width="0.8"/><line x1="472.3" y1="316.2" x2="650.8" y2="316.2" stroke="#cfcfcf" stroke-width="0.8"/><line x1="499.5" y1="228.4" x2="499.5" y2="384.8" stroke="#d6d6d6" stroke-width="0.8"/><line x1="588.3" y1="228.4" x2="588.3" y2="384.8" stroke="#d6d6d6" stroke-width="0.8"/><rect x="472.3" y="228.4" width="178.5" height="156.4" fill="none" stroke="#a4a4a4" stroke-width="0.9"/><line x1="472.3" y1="363.87" x2="473.6" y2="363.87" stroke="#666" stroke-width="0.6"/><line x1="650.8" y1="363.87" x2="649.5" y2="363.87" stroke="#666" stroke-width="0.6"/><line x1="472.3" y1="351.86" x2="473.6" y2="351.86" stroke="#666" stroke-width="0.6"/><line x1="650.8" y1="351.86" x2="649.5" y2="351.86" stroke="#666" stroke-width="0.6"/><line x1="472.3" y1="343.34" x2="473.6" y2="343.34" stroke="#666" stroke-width="0.6"/><line x1="650.8" y1="343.34" x2="649.5" y2="343.34" stroke="#666" stroke-width="0.6"/><line x1="472.3" y1="336.73" x2="473.6" y2="336.73" stroke="#666" stroke-width="0.6"/><line x1="650.8" y1="336.73" x2="649.5" y2="336.73" stroke="#666" stroke-width="0.6"/><line x1="472.3" y1="331.33" x2="473.6" y2="331.33" stroke="#666" stroke-width="0.6"/><line x1="650.8" y1="331.33" x2="649.5" y2="331.33" stroke="#666" stroke-width="0.6"/><line x1="472.3" y1="326.76" x2="473.6" y2="326.76" stroke="#666" stroke-width="0.6"/><line x1="650.8" y1="326.76" x2="649.5" y2="326.76" stroke="#666" stroke-width="0.6"/><line x1="472.3" y1="322.81" x2="473.6" y2="322.81" stroke="#666" stroke-width="0.6"/><line x1="650.8" y1="322.81" x2="649.5" y2="322.81" stroke="#666" stroke-width="0.6"/><line x1="472.3" y1="319.32" x2="473.6" y2="319.32" stroke="#666" stroke-width="0.6"/><line x1="650.8" y1="319.32" x2="649.5" y2="319.32" stroke="#666" stroke-width="0.6"/><line x1="472.3" y1="295.67" x2="473.6" y2="295.67" stroke="#666" stroke-width="0.6"/><line x1="650.8" y1="295.67" x2="649.5" y2="295.67" stroke="#666" stroke-width="0.6"/><line x1="472.3" y1="283.66" x2="473.6" y2="283.66" stroke="#666" stroke-width="0.6"/><line x1="650.8" y1="283.66" x2="649.5" y2="283.66" stroke="#666" stroke-width="0.6"/><line x1="472.3" y1="275.14" x2="473.6" y2="275.14" stroke="#666" stroke-width="0.6"/><line x1="650.8" y1="275.14" x2="649.5" y2="275.14" stroke="#666" stroke-width="0.6"/><line x1="472.3" y1="268.53" x2="473.6" y2="268.53" stroke="#666" stroke-width="0.6"/><line x1="650.8" y1="268.53" x2="649.5" y2="268.53" stroke="#666" stroke-width="0.6"/><line x1="472.3" y1="263.13" x2="473.6" y2="263.13" stroke="#666" stroke-width="0.6"/><line x1="650.8" y1="263.13" x2="649.5" y2="263.13" stroke="#666" stroke-width="0.6"/><line x1="472.3" y1="258.56" x2="473.6" y2="258.56" stroke="#666" stroke-width="0.6"/><line x1="650.8" y1="258.56" x2="649.5" y2="258.56" stroke="#666" stroke-width="0.6"/><line x1="472.3" y1="254.61" x2="473.6" y2="254.61" stroke="#666" stroke-width="0.6"/><line x1="650.8" y1="254.61" x2="649.5" y2="254.61" stroke="#666" stroke-width="0.6"/><line x1="472.3" y1="251.12" x2="473.6" y2="251.12" stroke="#666" stroke-width="0.6"/><line x1="650.8" y1="251.12" x2="649.5" y2="251.12" stroke="#666" stroke-width="0.6"/><line x1="472.3" y1="248.1" x2="473.6" y2="248.1" stroke="#666" stroke-width="0.6"/><line x1="650.8" y1="248.1" x2="649.5" y2="248.1" stroke="#666" stroke-width="0.6"/><line x1="472.3" y1="316.2" x2="473.6" y2="316.2" stroke="#666" stroke-width="0.6"/><line x1="650.8" y1="316.2" x2="649.5" y2="316.2" stroke="#666" stroke-width="0.6"/><line x1="499.5" y1="228.4" x2="499.5" y2="229.70000000000002" stroke="#666" stroke-width="0.6"/><line x1="499.5" y1="384.8" x2="499.5" y2="383.5" stroke="#666" stroke-width="0.6"/><line x1="588.3" y1="228.4" x2="588.3" y2="229.70000000000002" stroke="#666" stroke-width="0.6"/><line x1="588.3" y1="384.8" x2="588.3" y2="383.5" stroke="#666" stroke-width="0.6"/><line x1="472.77" y1="228.4" x2="472.77" y2="229.70000000000002" stroke="#666" stroke-width="0.6"/><line x1="472.77" y1="384.8" x2="472.77" y2="383.5" stroke="#666" stroke-width="0.6"/><line x1="479.8" y1="228.4" x2="479.8" y2="229.70000000000002" stroke="#666" stroke-width="0.6"/><line x1="479.8" y1="384.8" x2="479.8" y2="383.5" stroke="#666" stroke-width="0.6"/><line x1="485.74" y1="228.4" x2="485.74" y2="229.70000000000002" stroke="#666" stroke-width="0.6"/><line x1="485.74" y1="384.8" x2="485.74" y2="383.5" stroke="#666" stroke-width="0.6"/><line x1="490.89" y1="228.4" x2="490.89" y2="229.70000000000002" stroke="#666" stroke-width="0.6"/><line x1="490.89" y1="384.8" x2="490.89" y2="383.5" stroke="#666" stroke-width="0.6"/><line x1="495.44" y1="228.4" x2="495.44" y2="229.70000000000002" stroke="#666" stroke-width="0.6"/><line x1="495.44" y1="384.8" x2="495.44" y2="383.5" stroke="#666" stroke-width="0.6"/><line x1="526.23" y1="228.4" x2="526.23" y2="229.70000000000002" stroke="#666" stroke-width="0.6"/><line x1="526.23" y1="384.8" x2="526.23" y2="383.5" stroke="#666" stroke-width="0.6"/><line x1="541.87" y1="228.4" x2="541.87" y2="229.70000000000002" stroke="#666" stroke-width="0.6"/><line x1="541.87" y1="384.8" x2="541.87" y2="383.5" stroke="#666" stroke-width="0.6"/><line x1="552.96" y1="228.4" x2="552.96" y2="229.70000000000002" stroke="#666" stroke-width="0.6"/><line x1="552.96" y1="384.8" x2="552.96" y2="383.5" stroke="#666" stroke-width="0.6"/><line x1="561.57" y1="228.4" x2="561.57" y2="229.70000000000002" stroke="#666" stroke-width="0.6"/><line x1="561.57" y1="384.8" x2="561.57" y2="383.5" stroke="#666" stroke-width="0.6"/><line x1="568.6" y1="228.4" x2="568.6" y2="229.70000000000002" stroke="#666" stroke-width="0.6"/><line x1="568.6" y1="384.8" x2="568.6" y2="383.5" stroke="#666" stroke-width="0.6"/><line x1="574.54" y1="228.4" x2="574.54" y2="229.70000000000002" stroke="#666" stroke-width="0.6"/><line x1="574.54" y1="384.8" x2="574.54" y2="383.5" stroke="#666" stroke-width="0.6"/><line x1="579.69" y1="228.4" x2="579.69" y2="229.70000000000002" stroke="#666" stroke-width="0.6"/><line x1="579.69" y1="384.8" x2="579.69" y2="383.5" stroke="#666" stroke-width="0.6"/><line x1="584.24" y1="228.4" x2="584.24" y2="229.70000000000002" stroke="#666" stroke-width="0.6"/><line x1="584.24" y1="384.8" x2="584.24" y2="383.5" stroke="#666" stroke-width="0.6"/><line x1="615.03" y1="228.4" x2="615.03" y2="229.70000000000002" stroke="#666" stroke-width="0.6"/><line x1="615.03" y1="384.8" x2="615.03" y2="383.5" stroke="#666" stroke-width="0.6"/><line x1="630.67" y1="228.4" x2="630.67" y2="229.70000000000002" stroke="#666" stroke-width="0.6"/><line x1="630.67" y1="384.8" x2="630.67" y2="383.5" stroke="#666" stroke-width="0.6"/><line x1="641.76" y1="228.4" x2="641.76" y2="229.70000000000002" stroke="#666" stroke-width="0.6"/><line x1="641.76" y1="384.8" x2="641.76" y2="383.5" stroke="#666" stroke-width="0.6"/><line x1="650.37" y1="228.4" x2="650.37" y2="229.70000000000002" stroke="#666" stroke-width="0.6"/><line x1="650.37" y1="384.8" x2="650.37" y2="383.5" stroke="#666" stroke-width="0.6"/><path d="M526.3,365.7 L636.7,281.3" stroke="#e06a2c" stroke-width="1.5" stroke-dasharray="3.6,1.3,0.9,1.3" fill="none"/><circle cx="595.6" cy="289.6" r="3.1" fill="#0a0af2"/><circle cx="574.6" cy="301.7" r="3.1" fill="#1a62d2"/><circle cx="582.7" cy="301.7" r="3.1" fill="#0a0af2"/><circle cx="575.6" cy="304.6" r="3.1" fill="#14ee84"/><circle cx="588.1" cy="308.8" r="3.1" fill="#1a62d2"/><circle cx="589" cy="311.7" r="3.1" fill="#14ee84"/><circle cx="602.5" cy="310.8" r="3.1" fill="#1a82c2"/><circle cx="616" cy="311.2" r="3.1" fill="#1a62d2"/><circle cx="540.4" cy="320" r="3.1" fill="#14ee84"/><circle cx="593.8" cy="321.3" r="3.1" fill="#0a0af2"/><circle cx="601.9" cy="320" r="3.1" fill="#1a82c2"/><circle cx="579.8" cy="329.6" r="3.1" fill="#14ee84"/><circle cx="552.9" cy="337.1" r="3.1" fill="#20d0a0"/><circle cx="601.9" cy="333.8" r="3.1" fill="#1a82c2"/><circle cx="537.1" cy="341.5" r="3.1" fill="#20c8a0"/><circle cx="579.8" cy="350.8" r="3.1" fill="#1a62d2"/><circle cx="539.8" cy="353.7" r="3.1" fill="#14ee84"/><polygon points="523.89,239.93 527.2,244.81 533.08,244.42 529.46,249.07 531.66,254.54 526.11,252.54 521.59,256.32 521.78,250.42 516.78,247.29 522.45,245.65" fill="none" stroke="#a8183a" stroke-width="1.1"/><circle cx="526" cy="248.4" r="3.1" fill="#14ee84"/><text x="535.6" y="253" font-size="12.2" font-family="Liberation Sans, sans-serif" fill="#a8183a" text-anchor="start" >This work</text><text x="473.9" y="361.9" font-size="12.2" font-family="Liberation Sans, sans-serif" fill="#a8183a" text-anchor="start" >Literature</text><text x="468" y="252.1" font-size="11.4" font-family="Liberation Sans, sans-serif" fill="#111" text-anchor="end" >10<tspan font-size="8.4" dy="-4.5">4</tspan></text><text x="468" y="320" font-size="11.4" font-family="Liberation Sans, sans-serif" fill="#111" text-anchor="end" >10<tspan font-size="8.4" dy="-4.5">3</tspan></text><text x="468" y="388.3" font-size="11.4" font-family="Liberation Sans, sans-serif" fill="#111" text-anchor="end" >10<tspan font-size="8.4" dy="-4.5">2</tspan></text><text x="501.2" y="398.4" font-size="11.4" font-family="Liberation Sans, sans-serif" fill="#111" text-anchor="middle" >10<tspan font-size="8.4" dy="-4.5">1</tspan></text><text x="588.9" y="398.4" font-size="11.4" font-family="Liberation Sans, sans-serif" fill="#111" text-anchor="middle" >10<tspan font-size="8.4" dy="-4.5">2</tspan></text><text x="557.4" y="411.6" font-size="13.8" font-family="Liberation Sans, sans-serif" fill="#111" text-anchor="middle" >d [μm]</text><text transform="translate(448.2,304.6) rotate(-90)" font-size="13" font-family="Liberation Sans, sans-serif" fill="#111" text-anchor="middle">Q</text><defs><linearGradient id="scG" x1="0" y1="0" x2="0" y2="1"><stop offset="0" stop-color="#20f0a0"/><stop offset="0.35" stop-color="#1ab0b8"/><stop offset="0.7" stop-color="#1460d8"/><stop offset="1" stop-color="#0000f0"/></linearGradient></defs><rect x="655.1" y="355.3" width="6.2" height="28.4" fill="url(#scG)"/><line x1="661.3" y1="358.2" x2="663" y2="358.2" stroke="#333" stroke-width="0.6"/><line x1="661.3" y1="373" x2="663" y2="373" stroke="#333" stroke-width="0.6"/><text x="663.5" y="362" font-size="11" font-family="Liberation Sans, sans-serif" fill="#111" text-anchor="start" >0.3</text><text x="663.5" y="376.8" font-size="11" font-family="Liberation Sans, sans-serif" fill="#111" text-anchor="start" >0.2</text><text x="654.8" y="346.4" font-size="12" font-family="Liberation Sans, sans-serif" fill="#111">Sc<tspan font-size="8.5" dy="1.5">%</tspan></text></svg></body></html>
